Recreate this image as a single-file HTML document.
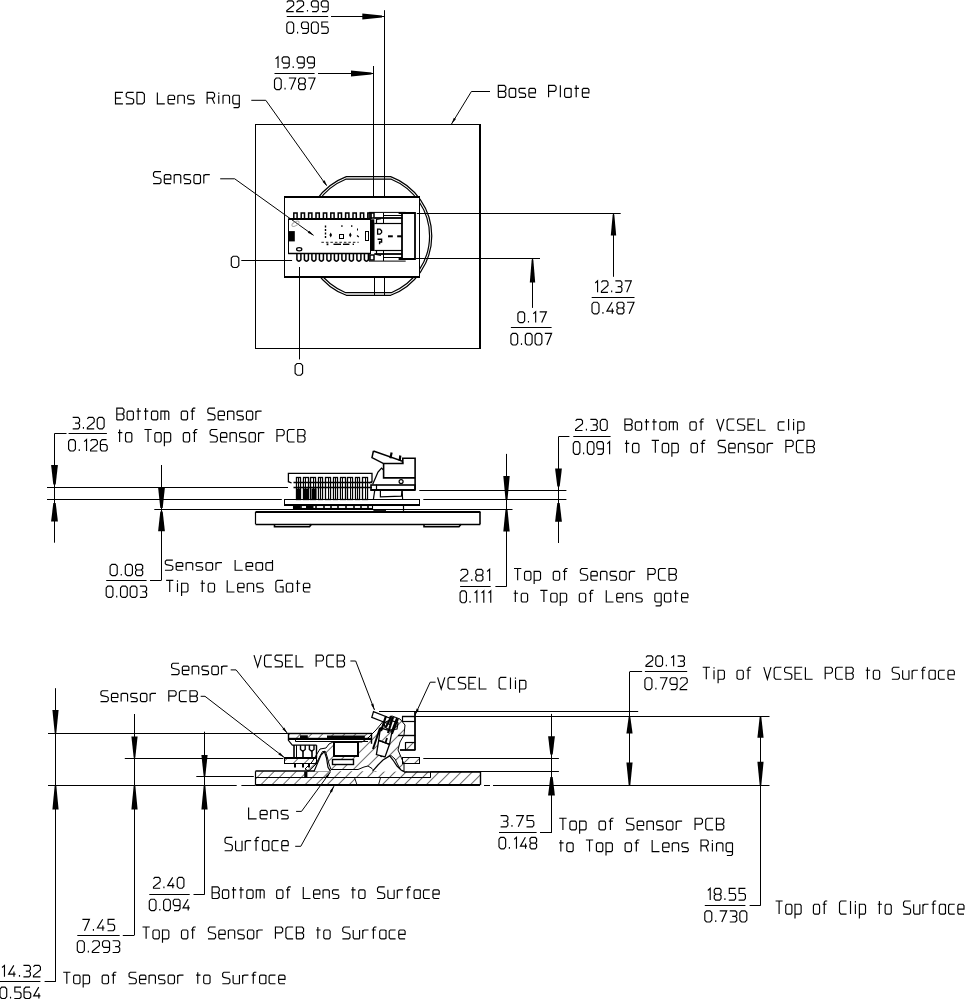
<!DOCTYPE html>
<html><head><meta charset="utf-8"><style>
html,body{margin:0;padding:0;background:#fff;width:965px;height:999px;overflow:hidden}
svg{display:block}
text{font-family:"Liberation Sans",sans-serif;fill:#000}
</style></head><body>
<svg width="965" height="999" viewBox="0 0 965 999" stroke="#000" fill="none" stroke-linecap="butt">
<defs><pattern id="hatch" patternUnits="userSpaceOnUse" width="7.8" height="20" patternTransform="translate(282,785) rotate(45)"><line x1="0" y1="-5" x2="0" y2="25" stroke="#000" stroke-width="1.15"/></pattern></defs>
<rect x="255.5" y="124.5" width="224.00" height="224.00" fill="none" stroke-width="1.0"/>
<line x1="480.0" y1="124.0" x2="480.0" y2="349.0" stroke-width="2.0"/>
<path d="M346.34,176.6 L390.66,176.6 A63.4,63.4 0 0 1 390.66,295.3 L346.34,295.3 A63.4,63.4 0 0 1 346.34,176.6 Z" fill="none" stroke-width="1.2"/>
<path d="M345.71,179.2 L391.29,179.2 A61.2,61.2 0 0 1 391.29,292.7 L345.71,292.7 A61.2,61.2 0 0 1 345.71,179.2 Z" fill="none" stroke-width="1.2"/>
<rect x="284.4" y="196.5" width="135.00" height="80.50" fill="#fff" stroke-width="0"/>
<rect x="284.5" y="196.5" width="135.00" height="81.00" fill="none" stroke-width="1.0"/>
<line x1="284.4" y1="197.0" x2="419.4" y2="197.0" stroke-width="2.0"/>
<line x1="284.4" y1="277.0" x2="419.4" y2="277.0" stroke-width="2.0"/>
<line x1="286.8" y1="16.5" x2="328.2" y2="16.5" stroke-width="1.0"/>
<line x1="331" y1="16.5" x2="384.4" y2="16.5" stroke-width="1.0"/>
<polygon points="362.30,13.50 362.30,19.50 382.00,17.50 382.00,15.50" fill="#000" stroke="none"/>
<line x1="384.5" y1="10.2" x2="384.5" y2="196" stroke-width="1.0"/>
<line x1="384.5" y1="277" x2="384.5" y2="295.3" stroke-width="1.0"/>
<line x1="274.5" y1="73.5" x2="314.6" y2="73.5" stroke-width="1.0"/>
<line x1="318" y1="73.5" x2="373.5" y2="73.5" stroke-width="1.0"/>
<polygon points="351.00,70.50 351.00,76.50 371.50,74.50 371.50,72.50" fill="#000" stroke="none"/>
<line x1="373.5" y1="66" x2="373.5" y2="196" stroke-width="1.0"/>
<line x1="374.5" y1="277" x2="374.5" y2="295.3" stroke-width="1.0"/>
<polyline points="251.3,100.3 265.8,100.3 326.5,185.5" fill="none" stroke-width="1.0"/>
<polygon points="327.30,186.30 324.54,180.29 322.50,181.74" fill="#000" stroke="none"/>
<polyline points="220.2,178.8 234.7,178.8 313.5,235.3" fill="none" stroke-width="1.0"/>
<polygon points="313.80,235.50 309.25,230.70 307.79,232.73" fill="#000" stroke="none"/>
<polyline points="490,91.5 471.4,91.5 451.5,124" fill="none" stroke-width="1.0"/>
<polygon points="451.50,124.00 455.96,119.11 453.83,117.80" fill="#000" stroke="none"/>
<line x1="241.3" y1="260.5" x2="292.1" y2="260.5" stroke-width="1.0"/>
<line x1="299.5" y1="267" x2="299.5" y2="359.4" stroke-width="1.0"/>
<line x1="416.8" y1="213.5" x2="620.7" y2="213.5" stroke-width="1.0"/>
<line x1="416.0" y1="258.5" x2="540.0" y2="258.5" stroke-width="1.0"/>
<line x1="613.5" y1="213.3" x2="613.5" y2="276.8" stroke-width="1.0"/>
<polygon points="610.80,235.60 616.20,235.60 614.30,214.50 612.70,214.50" fill="#000" stroke="none"/>
<line x1="591.7" y1="297.5" x2="634.5" y2="297.5" stroke-width="1.0"/>
<line x1="532.5" y1="258.2" x2="532.5" y2="307.9" stroke-width="1.0"/>
<polygon points="529.80,282.40 535.20,282.40 533.30,259.50 531.70,259.50" fill="#000" stroke="none"/>
<line x1="510.9" y1="327.5" x2="551.6" y2="327.5" stroke-width="1.0"/>
<rect x="288.5" y="219.5" width="82.00" height="34.00" fill="none" stroke-width="1.0"/>
<line x1="288.3" y1="219.0" x2="370.8" y2="219.0" stroke-width="2.0"/>
<line x1="288.3" y1="253.5" x2="370.8" y2="253.5" stroke-width="1.4"/>
<polyline points="293.8,219 293.8,212.9 297.1,212.9 297.1,219" fill="none" stroke-width="1.5"/>
<polyline points="301.2,219 301.2,212.9 304.5,212.9 304.5,219" fill="none" stroke-width="1.5"/>
<polyline points="308.6,219 308.6,212.9 311.90000000000003,212.9 311.90000000000003,219" fill="none" stroke-width="1.5"/>
<polyline points="316.0,219 316.0,212.9 319.3,212.9 319.3,219" fill="none" stroke-width="1.5"/>
<polyline points="323.40000000000003,219 323.40000000000003,212.9 326.70000000000005,212.9 326.70000000000005,219" fill="none" stroke-width="1.5"/>
<polyline points="330.8,219 330.8,212.9 334.1,212.9 334.1,219" fill="none" stroke-width="1.5"/>
<polyline points="338.20000000000005,219 338.20000000000005,212.9 341.50000000000006,212.9 341.50000000000006,219" fill="none" stroke-width="1.5"/>
<polyline points="345.6,219 345.6,212.9 348.90000000000003,212.9 348.90000000000003,219" fill="none" stroke-width="1.5"/>
<polyline points="353.0,219 353.0,212.9 356.3,212.9 356.3,219" fill="none" stroke-width="1.5"/>
<polyline points="360.40000000000003,219 360.40000000000003,212.9 363.70000000000005,212.9 363.70000000000005,219" fill="none" stroke-width="1.5"/>
<polyline points="367.8,219 367.8,212.9 371.1,212.9 371.1,219" fill="none" stroke-width="1.5"/>
<path d="M296.9,253.5 L296.9,259.8 Q298.9,262.6 300.9,259.8 L300.9,253.5" fill="none" stroke-width="1.5"/>
<path d="M304.4,253.5 L304.4,259.8 Q306.4,262.6 308.4,259.8 L308.4,253.5" fill="none" stroke-width="1.5"/>
<path d="M311.9,253.5 L311.9,259.8 Q313.9,262.6 315.9,259.8 L315.9,253.5" fill="none" stroke-width="1.5"/>
<path d="M319.4,253.5 L319.4,259.8 Q321.4,262.6 323.4,259.8 L323.4,253.5" fill="none" stroke-width="1.5"/>
<path d="M326.9,253.5 L326.9,259.8 Q328.9,262.6 330.9,259.8 L330.9,253.5" fill="none" stroke-width="1.5"/>
<path d="M334.4,253.5 L334.4,259.8 Q336.4,262.6 338.4,259.8 L338.4,253.5" fill="none" stroke-width="1.5"/>
<path d="M341.9,253.5 L341.9,259.8 Q343.9,262.6 345.9,259.8 L345.9,253.5" fill="none" stroke-width="1.5"/>
<path d="M349.4,253.5 L349.4,259.8 Q351.4,262.6 353.4,259.8 L353.4,253.5" fill="none" stroke-width="1.5"/>
<path d="M356.9,253.5 L356.9,259.8 Q358.9,262.6 360.9,259.8 L360.9,253.5" fill="none" stroke-width="1.5"/>
<path d="M364.4,253.5 L364.4,259.8 Q366.4,262.6 368.4,259.8 L368.4,253.5" fill="none" stroke-width="1.5"/>
<rect x="370.8" y="222.7" width="3.50" height="28.00" fill="#000" stroke-width="0"/>
<rect x="288.7" y="231.1" width="6.10" height="10.30" fill="#000" stroke-width="0"/>
<ellipse cx="299.2" cy="249.2" rx="2.6" ry="1.6" stroke-width="1.3"/>
<line x1="325.5" y1="225.5" x2="325.5" y2="227.5" stroke-width="1.4"/>
<line x1="325.5" y1="229.0" x2="325.5" y2="231.0" stroke-width="1.4"/>
<line x1="325.5" y1="232.5" x2="325.5" y2="234.5" stroke-width="1.4"/>
<line x1="325.5" y1="236.0" x2="325.5" y2="238.0" stroke-width="1.4"/>
<polygon points="330.7,232.6 332.0,235.0 330.7,237.4 329.4,235.0" fill="#000" stroke="none"/>
<polygon points="350.3,232.6 351.6,235.0 350.3,237.4 349.0,235.0" fill="#000" stroke="none"/>
<rect x="339.5" y="234.5" width="4.00" height="4.00" fill="none" stroke-width="1.0"/>
<rect x="341.2" y="225.3" width="1.40" height="1.50" fill="#000" stroke-width="0"/>
<rect x="351.0" y="225.3" width="1.40" height="1.50" fill="#000" stroke-width="0"/>
<line x1="357.5" y1="228.5" x2="357.5" y2="230.5" stroke-width="1.0"/>
<line x1="357.0" y1="235.5" x2="358.8" y2="237.0" stroke-width="1.2"/>
<line x1="321.4" y1="242.3" x2="358.7" y2="242.3" stroke-width="0.9" stroke-dasharray="2.5 2"/>
<rect x="326.6" y="243.4" width="1.80" height="1.80" fill="#000" stroke-width="0"/>
<rect x="333.5" y="243.6" width="7.50" height="1.40" fill="#000" stroke-width="0"/>
<rect x="343.0" y="243.6" width="6.40" height="1.40" fill="#000" stroke-width="0"/>
<rect x="352.6" y="243.6" width="1.40" height="1.40" fill="#000" stroke-width="0"/>
<rect x="365.5" y="231.5" width="3.00" height="9.00" fill="none" stroke-width="1.0"/>
<ellipse cx="295.5" cy="223.8" rx="4" ry="1.8" transform="rotate(-30 295.5 223.8)" stroke="#aaa" stroke-width="1"/>
<rect x="370.3" y="219.3" width="4.00" height="31.70" fill="#000" stroke-width="0"/>
<rect x="402.0" y="213.0" width="13.00" height="46.00" fill="none" stroke-width="1.8"/>
<line x1="398.6" y1="213.0" x2="415.4" y2="213.0" stroke-width="2.0"/>
<line x1="398.6" y1="259.0" x2="415.4" y2="259.0" stroke-width="2.0"/>
<polyline points="369,219.3 369,212.4 405.7,212.4" fill="none" stroke-width="1.0"/>
<polyline points="369,253.3 369,261.1 405.7,261.1" fill="none" stroke-width="1.0"/>
<rect x="370.0" y="213.0" width="4.00" height="5.00" fill="none" stroke-width="1.5"/>
<rect x="370.0" y="255.0" width="4.00" height="5.00" fill="none" stroke-width="1.5"/>
<line x1="384" y1="215.5" x2="402.3" y2="215.5" stroke-width="1.0"/>
<line x1="374.3" y1="218.0" x2="402.3" y2="218.0" stroke-width="1.8"/>
<line x1="374.3" y1="223.5" x2="402.3" y2="223.5" stroke-width="1.2"/>
<line x1="374.3" y1="250.5" x2="402.3" y2="250.5" stroke-width="1.2"/>
<line x1="374.3" y1="254.0" x2="402.3" y2="254.0" stroke-width="1.8"/>
<line x1="384" y1="257.5" x2="402.3" y2="257.5" stroke-width="1.0"/>
<polyline points="376.5,223.3 376.5,219.5 381,218.6" fill="none" stroke-width="1.2"/>
<polyline points="376.5,250.7 376.5,254.5 381,255.5" fill="none" stroke-width="1.2"/>
<line x1="383.5" y1="213" x2="383.5" y2="223.3" stroke-width="1.0"/>
<line x1="383.5" y1="250.7" x2="383.5" y2="261" stroke-width="1.0"/>
<path d="M377.6,229.2 L380,229.2 L381.6,230.8 L381.6,232.6 L380,234.2 L377.6,234.2 Z" fill="none" stroke-width="1.3"/>
<path d="M377.6,239.2 L381.6,239.2 L381.6,242 L379.6,242 L379.6,244.2" fill="none" stroke-width="1.4"/>
<rect x="388.0" y="235.3" width="4.80" height="2.00" fill="#000" stroke-width="0"/>
<rect x="397.2" y="235.3" width="4.80" height="2.00" fill="#000" stroke-width="0"/>
<line x1="47" y1="487.5" x2="288" y2="487.5" stroke-width="1.0"/>
<line x1="47" y1="499.5" x2="281.8" y2="499.5" stroke-width="1.0"/>
<line x1="154.3" y1="509.5" x2="512.5" y2="509.5" stroke-width="1.0"/>
<line x1="419.3" y1="490.5" x2="566.4" y2="490.5" stroke-width="1.0"/>
<line x1="423.3" y1="499.5" x2="566.4" y2="499.5" stroke-width="1.0"/>
<line x1="54.5" y1="433.4" x2="54.5" y2="542.7" stroke-width="1.0"/>
<polygon points="51.10,465.00 57.90,465.00 55.70,484.50 53.30,484.50" fill="#000" stroke="none"/>
<polygon points="51.10,521.40 57.90,521.40 55.70,503.00 53.30,503.00" fill="#000" stroke="none"/>
<line x1="54.6" y1="433.5" x2="66.5" y2="433.5" stroke-width="1.0"/>
<line x1="68.6" y1="433.5" x2="106.9" y2="433.5" stroke-width="1.0"/>
<line x1="161.5" y1="465.0" x2="161.5" y2="580.3" stroke-width="1.0"/>
<polygon points="158.10,487.60 164.90,487.60 162.70,508.00 160.30,508.00" fill="#000" stroke="none"/>
<polygon points="158.10,531.20 164.90,531.20 162.70,511.50 160.30,511.50" fill="#000" stroke="none"/>
<line x1="106.2" y1="580.5" x2="146.6" y2="580.5" stroke-width="1.0"/>
<line x1="150.0" y1="580.5" x2="161.4" y2="580.5" stroke-width="1.0"/>
<line x1="506.5" y1="453.9" x2="506.5" y2="586.4" stroke-width="1.0"/>
<polygon points="503.30,476.00 509.70,476.00 507.50,499.40 505.50,499.40" fill="#000" stroke="none"/>
<polygon points="503.30,531.60 509.70,531.60 507.50,509.50 505.50,509.50" fill="#000" stroke="none"/>
<line x1="460.1" y1="586.5" x2="490.7" y2="586.5" stroke-width="1.0"/>
<line x1="495.4" y1="586.5" x2="506.7" y2="586.5" stroke-width="1.0"/>
<line x1="558.5" y1="436.7" x2="558.5" y2="543.0" stroke-width="1.0"/>
<polygon points="555.10,468.40 561.90,468.40 559.70,486.60 557.30,486.60" fill="#000" stroke="none"/>
<polygon points="555.10,521.70 561.90,521.70 559.70,503.10 557.30,503.10" fill="#000" stroke="none"/>
<line x1="558.5" y1="436.5" x2="569.4" y2="436.5" stroke-width="1.0"/>
<line x1="573.3" y1="436.5" x2="610.6" y2="436.5" stroke-width="1.0"/>
<line x1="255.6" y1="512.0" x2="480.3" y2="512.0" stroke-width="2.0"/>
<line x1="255.6" y1="524.5" x2="480.3" y2="524.5" stroke-width="1.4"/>
<line x1="255.5" y1="511.8" x2="255.5" y2="524.3" stroke-width="1.2"/>
<line x1="480.0" y1="511.8" x2="480.0" y2="524.3" stroke-width="1.6"/>
<polyline points="274.5,524.3 274.5,526.8 309.5,526.8 311.4,524.3" fill="none" stroke-width="1.6"/>
<polyline points="424.0,524.3 424.0,526.8 459.0,526.8 461.0,524.3" fill="none" stroke-width="1.6"/>
<line x1="373.4" y1="511.0" x2="386" y2="511.0" stroke-width="1.8"/>
<rect x="284.5" y="499.5" width="135.00" height="6.00" fill="none" stroke-width="1.0"/>
<line x1="284.6" y1="505.0" x2="419.3" y2="505.0" stroke-width="1.8"/>
<rect x="293.5" y="505.5" width="79.00" height="3.00" fill="none" stroke-width="1.1"/>
<line x1="294.0" y1="505.1" x2="294.0" y2="508.9" stroke-width="1.6"/>
<line x1="301.0" y1="505.1" x2="301.0" y2="508.9" stroke-width="1.6"/>
<line x1="308.0" y1="505.1" x2="308.0" y2="508.9" stroke-width="1.6"/>
<line x1="316.0" y1="505.1" x2="316.0" y2="508.9" stroke-width="1.6"/>
<line x1="324.0" y1="505.1" x2="324.0" y2="508.9" stroke-width="1.6"/>
<line x1="331.0" y1="505.1" x2="331.0" y2="508.9" stroke-width="1.6"/>
<line x1="338.0" y1="505.1" x2="338.0" y2="508.9" stroke-width="1.6"/>
<line x1="346.0" y1="505.1" x2="346.0" y2="508.9" stroke-width="1.6"/>
<line x1="354.0" y1="505.1" x2="354.0" y2="508.9" stroke-width="1.6"/>
<line x1="361.0" y1="505.1" x2="361.0" y2="508.9" stroke-width="1.6"/>
<line x1="368.0" y1="505.1" x2="368.0" y2="508.9" stroke-width="1.6"/>
<rect x="294" y="505.5" width="6.50" height="3.00" fill="#000" stroke-width="0"/>
<rect x="306" y="505.5" width="7.50" height="3.00" fill="#000" stroke-width="0"/>
<polyline points="291.6,483 288.4,481.7 288.4,473.4 372.0,473.4 372.0,481.7 369,483" fill="none" stroke-width="1.3"/>
<line x1="293.5" y1="482.5" x2="372.0" y2="482.5" stroke-width="1.3"/>
<line x1="293.5" y1="487.5" x2="372.0" y2="487.5" stroke-width="1.3"/>
<rect x="296.5" y="488.5" width="4.00" height="10.50" fill="#000" stroke-width="0"/>
<rect x="304.0" y="488.5" width="4.50" height="10.50" fill="#000" stroke-width="0"/>
<rect x="311.5" y="488.5" width="5.00" height="10.50" fill="#000" stroke-width="0"/>
<rect x="296.5" y="477.5" width="4.00" height="22.00" fill="none" stroke-width="1.3"/>
<line x1="298.5" y1="477.5" x2="298.5" y2="499" stroke-width="1.0"/>
<rect x="303.5" y="477.5" width="5.00" height="22.00" fill="none" stroke-width="1.3"/>
<line x1="305.5" y1="477.5" x2="305.5" y2="499" stroke-width="1.0"/>
<rect x="310.5" y="477.5" width="5.00" height="22.00" fill="none" stroke-width="1.3"/>
<line x1="313.5" y1="477.5" x2="313.5" y2="499" stroke-width="1.0"/>
<rect x="318.5" y="477.5" width="4.00" height="22.00" fill="none" stroke-width="1.3"/>
<line x1="320.5" y1="477.5" x2="320.5" y2="499" stroke-width="1.0"/>
<rect x="325.5" y="477.5" width="5.00" height="22.00" fill="none" stroke-width="1.3"/>
<line x1="328.5" y1="477.5" x2="328.5" y2="499" stroke-width="1.0"/>
<rect x="333.5" y="477.5" width="4.00" height="22.00" fill="none" stroke-width="1.3"/>
<line x1="335.5" y1="477.5" x2="335.5" y2="499" stroke-width="1.0"/>
<rect x="340.5" y="477.5" width="5.00" height="22.00" fill="none" stroke-width="1.3"/>
<line x1="342.5" y1="477.5" x2="342.5" y2="499" stroke-width="1.0"/>
<rect x="347.5" y="477.5" width="5.00" height="22.00" fill="none" stroke-width="1.3"/>
<line x1="350.5" y1="477.5" x2="350.5" y2="499" stroke-width="1.0"/>
<rect x="355.5" y="477.5" width="4.00" height="22.00" fill="none" stroke-width="1.3"/>
<line x1="357.5" y1="477.5" x2="357.5" y2="499" stroke-width="1.0"/>
<rect x="362.5" y="477.5" width="5.00" height="22.00" fill="none" stroke-width="1.3"/>
<line x1="365.5" y1="477.5" x2="365.5" y2="499" stroke-width="1.0"/>
<polyline points="373.4,451.0 402.1,461.1 402.8,463.6 383.6,463.6 372.0,457.6 373.4,451.0" fill="none" stroke-width="1.5"/>
<line x1="391.6" y1="452.5" x2="390.4" y2="458.2" stroke-width="2.2"/>
<line x1="400.3" y1="455.5" x2="399.6" y2="461" stroke-width="2.2"/>
<polyline points="402.8,463.6 402.8,458.3 415.1,458.3 415.1,489.8" fill="none" stroke-width="1.6"/>
<polyline points="383.6,463.6 383.6,477.9 415.1,477.9" fill="none" stroke-width="1.6"/>
<rect x="371.0" y="485.0" width="44.00" height="5.00" fill="none" stroke-width="1.6"/>
<line x1="376.5" y1="484.6" x2="376.5" y2="489.8" stroke-width="1.2"/>
<line x1="370.6" y1="490.0" x2="415.1" y2="490.0" stroke-width="2.0"/>
<circle cx="401.1" cy="481.6" r="2.0" stroke-width="1.2"/>
<polyline points="372.7,484.2 378,472 381.5,468.1 383.6,470" fill="none" stroke-width="1.3"/>
<line x1="374.8" y1="489.8" x2="373.4" y2="499.3" stroke-width="1.2"/>
<polyline points="380.4,489.8 380.4,496.9 401.4,496.1 402.1,489.8" fill="none" stroke-width="1.2"/>
<line x1="402.1" y1="489.8" x2="402.6" y2="499.3" stroke-width="1.2"/>
<line x1="403.5" y1="505.1" x2="403.5" y2="510.9" stroke-width="1.2"/>
<line x1="48" y1="733.5" x2="288" y2="733.5" stroke-width="1.0"/>
<line x1="124.8" y1="758.5" x2="283.3" y2="758.5" stroke-width="1.0"/>
<line x1="196.3" y1="776.5" x2="253.8" y2="776.5" stroke-width="1.0"/>
<line x1="48" y1="785.5" x2="236.7" y2="785.5" stroke-width="1.0"/>
<line x1="241.4" y1="785.5" x2="255.5" y2="785.5" stroke-width="1.0"/>
<line x1="379" y1="711.5" x2="638.2" y2="711.5" stroke-width="1.0"/>
<line x1="415.5" y1="716.5" x2="769.5" y2="716.5" stroke-width="1.0"/>
<line x1="423.3" y1="758.5" x2="558.9" y2="758.5" stroke-width="1.0"/>
<line x1="431" y1="771.5" x2="558.9" y2="771.5" stroke-width="1.0"/>
<line x1="484" y1="785.5" x2="490" y2="785.5" stroke-width="1.0"/>
<line x1="493" y1="785.5" x2="769.5" y2="785.5" stroke-width="1.0"/>
<line x1="55.5" y1="688.2" x2="55.5" y2="981.9" stroke-width="1.0"/>
<polygon points="52.40,710.00 58.60,710.00 56.30,733.00 54.70,733.00" fill="#000" stroke="none"/>
<polygon points="52.40,809.40 58.60,809.40 56.30,785.50 54.70,785.50" fill="#000" stroke="none"/>
<line x1="0" y1="981.5" x2="40.4" y2="981.5" stroke-width="1.0"/>
<line x1="44.6" y1="981.5" x2="55.5" y2="981.5" stroke-width="1.0"/>
<line x1="134.5" y1="714.0" x2="134.5" y2="935.3" stroke-width="1.0"/>
<polygon points="131.40,736.40 137.60,736.40 135.30,757.80 133.70,757.80" fill="#000" stroke="none"/>
<polygon points="131.40,809.40 137.60,809.40 135.30,785.50 133.70,785.50" fill="#000" stroke="none"/>
<line x1="77.3" y1="935.5" x2="119.7" y2="935.5" stroke-width="1.0"/>
<line x1="122.8" y1="935.5" x2="134.2" y2="935.5" stroke-width="1.0"/>
<line x1="204.5" y1="731.7" x2="204.5" y2="894.4" stroke-width="1.0"/>
<polygon points="201.40,755.00 207.60,755.00 205.30,776.50 203.70,776.50" fill="#000" stroke="none"/>
<polygon points="201.40,809.40 207.60,809.40 205.30,785.50 203.70,785.50" fill="#000" stroke="none"/>
<line x1="149.3" y1="894.5" x2="189.7" y2="894.5" stroke-width="1.0"/>
<line x1="193.5" y1="894.5" x2="204.7" y2="894.5" stroke-width="1.0"/>
<line x1="551.5" y1="713.9" x2="551.5" y2="832.7" stroke-width="1.0"/>
<polygon points="548.10,736.20 554.90,736.20 552.70,754.60 550.30,754.60" fill="#000" stroke="none"/>
<polygon points="548.10,795.40 554.90,795.40 552.70,777.00 550.30,777.00" fill="#000" stroke="none"/>
<line x1="499.0" y1="832.5" x2="536.6" y2="832.5" stroke-width="1.0"/>
<line x1="540.0" y1="832.5" x2="551.9" y2="832.5" stroke-width="1.0"/>
<line x1="629.5" y1="671.8" x2="629.5" y2="785.6" stroke-width="1.0"/>
<polygon points="626.40,733.40 632.60,733.40 630.30,716.80 628.70,716.80" fill="#000" stroke="none"/>
<polygon points="626.40,762.40 632.60,762.40 630.30,785.30 628.70,785.30" fill="#000" stroke="none"/>
<line x1="629.7" y1="671.5" x2="642.1" y2="671.5" stroke-width="1.0"/>
<line x1="644.9" y1="671.5" x2="687.2" y2="671.5" stroke-width="1.0"/>
<line x1="760.5" y1="716.5" x2="760.5" y2="905.2" stroke-width="1.0"/>
<polygon points="757.40,737.80 763.60,737.80 761.30,716.80 759.70,716.80" fill="#000" stroke="none"/>
<polygon points="757.40,761.70 763.60,761.70 761.30,785.30 759.70,785.30" fill="#000" stroke="none"/>
<line x1="704.8" y1="905.5" x2="745.4" y2="905.5" stroke-width="1.0"/>
<line x1="749.6" y1="905.5" x2="760.8" y2="905.5" stroke-width="1.0"/>
<polyline points="230.7,669.9 236.1,669.9 287.4,733.3" fill="none" stroke-width="1.0"/>
<polygon points="287.40,733.30 284.28,727.46 282.34,729.03" fill="#000" stroke="none"/>
<polyline points="200.7,696.3 205,696.3 284.3,757.5" fill="none" stroke-width="1.0"/>
<polygon points="284.30,757.50 279.92,752.54 278.39,754.52" fill="#000" stroke="none"/>
<polyline points="350.4,661.0 355.7,661.0 374.5,710" fill="none" stroke-width="1.0"/>
<polygon points="374.50,710.00 373.34,703.48 371.00,704.38" fill="#000" stroke="none"/>
<polyline points="435.6,682.2 430.2,682.2 415,715" fill="none" stroke-width="1.0"/>
<polygon points="415.00,715.00 418.87,709.63 416.60,708.58" fill="#000" stroke="none"/>
<polyline points="296.1,811.4 301.5,811.4 330.3,772.1" fill="none" stroke-width="1.0"/>
<polygon points="330.30,772.10 325.45,776.60 327.47,778.08" fill="#000" stroke="none"/>
<polyline points="295.2,846.3 300.8,846.3 334,786.1" fill="none" stroke-width="1.0"/>
<polygon points="334.00,786.10 329.77,791.19 331.96,792.40" fill="#000" stroke="none"/>
<rect x="255.5" y="771.2" width="224.60" height="13.70" fill="url(#hatch)" stroke-width="0"/>
<polygon points="354.5,777.4 380.6,777.4 378.5,784.9 357,784.9" fill="#fff" stroke-width="0"/>
<line x1="354.5" y1="777.4" x2="357" y2="784.9" stroke-width="0.9"/>
<line x1="380.6" y1="777.4" x2="378.5" y2="784.9" stroke-width="0.9"/>
<line x1="255.5" y1="771.0" x2="330" y2="771.0" stroke-width="1.6"/>
<line x1="404" y1="772.0" x2="480.1" y2="772.0" stroke-width="1.6"/>
<line x1="255.5" y1="777.5" x2="430.8" y2="777.5" stroke-width="1.0"/>
<line x1="430.5" y1="771.2" x2="430.5" y2="777.4" stroke-width="1.0"/>
<rect x="304.2" y="771.5" width="3.20" height="6.00" fill="#000" stroke-width="0"/>
<line x1="255.5" y1="785.0" x2="480.1" y2="785.0" stroke-width="1.8"/>
<line x1="255.5" y1="771.2" x2="255.5" y2="784.9" stroke-width="1.2"/>
<line x1="480.5" y1="771.2" x2="480.5" y2="784.9" stroke-width="1.4"/>
<polygon points="309,771.2 316,764 320,756 322.5,751.5 325.5,751.5 327.5,758 329,764 331,769.5 358,769.5 364,767 368,766 372,768.5 375.5,772 381,765 386,759 391,755.5 395,759 398,765 401,770.5 404,771.8 404,764 401,757 398,750 400,742 404,735 405,725 400,719 392,716 385,719 376,730 368,738 362,742 333,742 329,744 326,748 320,749 312,762 305,769" fill="url(#hatch)" stroke-width="1.0"/>
<polyline points="372.5,771.4 378,765 383,760 389.7,755.9 393,760 397,766 401,770 404,771.4" fill="#fff" stroke-width="1.2"/>
<polyline points="314,771.4 318,762 321,755 324.4,751.6 326.5,758 328,767.4 330.6,771.4" fill="#fff" stroke-width="1.2"/>
<rect x="334.0" y="742.0" width="24.00" height="14.00" fill="#fff" stroke-width="2.0"/>
<rect x="332.5" y="759.5" width="21.00" height="5.00" fill="#fff" stroke-width="1.4"/>
<rect x="284.5" y="757.5" width="32.00" height="6.00" fill="url(#hatch)" stroke-width="1.0"/>
<rect x="284.5" y="757.5" width="32.00" height="6.00" fill="none" stroke-width="1.0"/>
<line x1="284.7" y1="758.0" x2="316.5" y2="758.0" stroke-width="2.0"/>
<rect x="402.5" y="757.5" width="17.00" height="6.00" fill="url(#hatch)" stroke-width="1.0"/>
<rect x="402.5" y="757.5" width="17.00" height="6.00" fill="none" stroke-width="1.0"/>
<rect x="288.5" y="733.5" width="83.00" height="5.00" fill="url(#hatch)" stroke-width="1.0"/>
<rect x="288.5" y="733.5" width="83.00" height="5.00" fill="none" stroke-width="1.4"/>
<rect x="300.0" y="735.3" width="7.80" height="2.80" fill="#000" stroke-width="0"/>
<rect x="327.0" y="735.5" width="37.80" height="3.10" fill="#000" stroke-width="0"/>
<line x1="288.3" y1="739.0" x2="371.6" y2="739.0" stroke-width="2.0"/>
<line x1="295.4" y1="741.5" x2="368.0" y2="741.5" stroke-width="1.0"/>
<polyline points="288.4,738.9 288.4,740.4 292.3,745.1 316.5,745.1" fill="none" stroke-width="1.2"/>
<line x1="371.5" y1="738.9" x2="371.5" y2="743.8" stroke-width="1.4"/>
<line x1="295.5" y1="739" x2="295.5" y2="741.5" stroke-width="1.0"/>
<line x1="294.0" y1="745.1" x2="294.0" y2="757.8" stroke-width="1.6"/>
<line x1="296.5" y1="745.1" x2="296.5" y2="757.8" stroke-width="1.0"/>
<polyline points="300.5,745.1 300.5,749.5 302.85,751.3 305.2,749.5 305.2,745.1" fill="none" stroke-width="1.4"/>
<line x1="303.0" y1="751.3" x2="303.0" y2="757.8" stroke-width="1.6"/>
<polyline points="309.4,745.1 309.4,749.5 311.7,751.3 314.0,749.5 314.0,745.1" fill="none" stroke-width="1.4"/>
<line x1="312.0" y1="751.3" x2="312.0" y2="757.8" stroke-width="1.6"/>
<line x1="316.5" y1="745.1" x2="316.5" y2="757.8" stroke-width="1.4"/>
<line x1="295.0" y1="763.5" x2="295.0" y2="767.6" stroke-width="2.0"/>
<line x1="303.0" y1="763.5" x2="303.0" y2="767.6" stroke-width="2.0"/>
<line x1="309.0" y1="763.5" x2="309.0" y2="767.6" stroke-width="2.0"/>
<line x1="415.0" y1="711.3" x2="415.0" y2="750.3" stroke-width="1.8"/>
<line x1="402.0" y1="716.5" x2="415.3" y2="716.5" stroke-width="1.4"/>
<line x1="402.0" y1="721.5" x2="415.3" y2="721.5" stroke-width="1.2"/>
<line x1="402.5" y1="716.4" x2="402.5" y2="721.0" stroke-width="1.2"/>
<line x1="398.0" y1="735.5" x2="415.3" y2="735.5" stroke-width="1.4"/>
<line x1="405.7" y1="742.5" x2="415.3" y2="742.5" stroke-width="1.2"/>
<line x1="400.0" y1="750.0" x2="415.3" y2="750.0" stroke-width="1.8"/>
<line x1="405.5" y1="742.0" x2="405.5" y2="750.3" stroke-width="1.2"/>
<rect x="406" y="742.5" width="9.00" height="7.50" fill="url(#hatch)" stroke-width="0"/>
<polygon points="373.5,711.6 371.8,717.3 390,724.5 392,719" fill="#fff" stroke-width="1.3"/>
<polygon points="384,723 390,720 398,723 397,729 389,730 385,727" fill="url(#hatch)" stroke-width="1.2"/>
<line x1="386" y1="716" x2="381" y2="731" stroke-width="2.2"/>
<line x1="393" y1="717" x2="388" y2="733" stroke-width="2.2"/>
<line x1="398" y1="719" x2="392" y2="734" stroke-width="1.8"/>
<line x1="373" y1="749" x2="380" y2="728" stroke-width="2.0"/>
<line x1="387" y1="738" x2="381" y2="757" stroke-width="1.8"/>
<polygon points="378.7,740.3 389.5,744.3 385,756.9 376.4,754.6" fill="#fff" stroke-width="1.3"/>
<polygon points="380.4,727.8 392,731.5 389.5,744.3 378.7,740.3" fill="none" stroke-width="1.3"/>
<line x1="391.5" y1="716" x2="386" y2="727" stroke-width="2.0"/>
<line x1="397" y1="718" x2="392" y2="731" stroke-width="2.0"/>
<path d="M286.80,2.33 L288.17,0.90 L292.30,0.90 L293.67,2.33 L293.67,5.18 L286.80,10.53 L286.80,11.60 L293.67,11.60 M296.72,2.33 L298.09,0.90 L302.22,0.90 L303.59,2.33 L303.59,5.18 L296.72,10.53 L296.72,11.60 L303.59,11.60 M307.50,11.60 L307.50,9.99 M312.09,11.60 L316.56,11.60 L318.28,9.82 L318.28,2.33 L316.91,0.90 L312.78,0.90 L311.41,2.33 L311.41,5.54 L312.78,6.96 L318.28,6.96 M322.01,11.60 L326.48,11.60 L328.20,9.82 L328.20,2.33 L326.83,0.90 L322.70,0.90 L321.33,2.33 L321.33,5.54 L322.70,6.96 L328.20,6.96" stroke-width="1.15" stroke-linejoin="miter"/>
<path d="M288.52,33.40 L291.95,33.40 L293.67,31.50 L293.67,23.90 L291.95,22.00 L288.52,22.00 L286.80,23.90 L286.80,31.50 L288.52,33.40 M297.58,33.40 L297.58,31.69 M302.17,33.40 L306.64,33.40 L308.36,31.50 L308.36,23.52 L306.98,22.00 L302.86,22.00 L301.49,23.52 L301.49,26.94 L302.86,28.46 L308.36,28.46 M313.13,33.40 L316.56,33.40 L318.28,31.50 L318.28,23.90 L316.56,22.00 L313.13,22.00 L311.41,23.90 L311.41,31.50 L313.13,33.40 M328.20,22.00 L321.84,22.00 L321.84,26.94 L326.83,26.94 L328.20,28.46 L328.20,31.88 L326.83,33.40 L321.33,33.40" stroke-width="1.15" stroke-linejoin="miter"/>
<path d="M278.02,67.90 L278.02,56.80 L275.55,58.83 M282.89,67.90 L287.46,67.90 L289.22,66.05 L289.22,58.28 L287.82,56.80 L283.60,56.80 L282.19,58.28 L282.19,61.61 L283.60,63.09 L289.22,63.09 M293.22,67.90 L293.22,66.23 M297.92,67.90 L302.49,67.90 L304.25,66.05 L304.25,58.28 L302.84,56.80 L298.62,56.80 L297.22,58.28 L297.22,61.61 L298.62,63.09 L304.25,63.09 M308.07,67.90 L312.64,67.90 L314.40,66.05 L314.40,58.28 L312.99,56.80 L308.77,56.80 L307.37,58.28 L307.37,61.61 L308.77,63.09 L314.40,63.09" stroke-width="1.15" stroke-linejoin="miter"/>
<path d="M276.18,89.60 L279.54,89.60 L281.22,87.67 L281.22,79.93 L279.54,78.00 L276.18,78.00 L274.50,79.93 L274.50,87.67 L276.18,89.60 M285.05,89.60 L285.05,87.86 M288.87,78.00 L295.59,78.00 L290.88,89.60 M299.92,83.80 L298.57,82.25 L298.57,79.55 L299.92,78.00 L303.95,78.00 L305.30,79.55 L305.30,82.25 L303.95,83.80 L299.92,83.80 L298.57,85.35 L298.57,88.05 L299.92,89.60 L303.95,89.60 L305.30,88.05 L305.30,85.35 L303.95,83.80 M308.28,78.00 L315.00,78.00 L310.29,89.60" stroke-width="1.15" stroke-linejoin="miter"/>
<path d="M122.93,92.40 L115.50,92.40 L115.50,103.80 L122.93,103.80 M115.50,98.10 L121.07,98.10 M133.65,92.40 L127.52,92.40 L126.22,93.73 L126.22,96.58 L127.34,97.53 L132.54,98.67 L133.65,99.81 L133.65,102.47 L132.35,103.80 L125.85,103.80 M136.94,103.80 L136.94,92.40 L142.51,92.40 L144.37,94.30 L144.37,101.90 L142.51,103.80 L136.94,103.80 M157.35,92.40 L157.35,103.80 L164.78,103.80 M168.07,99.53 L174.57,99.53 L174.57,96.39 L173.46,95.25 L169.18,95.25 L168.07,96.39 L168.07,102.66 L169.18,103.80 L174.57,103.80 M177.86,103.80 L177.86,95.25 M177.86,96.39 L178.98,95.25 L183.25,95.25 L184.36,96.39 L184.36,103.80 M194.16,95.25 L188.59,95.25 L187.66,96.20 L187.66,98.58 L188.59,99.33 L193.23,100.09 L194.16,101.05 L194.16,102.85 L193.23,103.80 L187.66,103.80 M207.13,103.80 L207.13,92.40 L213.08,92.40 L214.56,93.92 L214.56,96.58 L213.08,98.10 L207.13,98.10 M211.96,98.10 L214.56,103.80 M218.78,103.80 L218.78,95.25 M218.78,93.73 L218.78,92.40 M223.01,103.80 L223.01,95.25 M223.01,96.39 L224.12,95.25 L228.39,95.25 L229.51,96.39 L229.51,103.80 M239.30,95.25 L233.92,95.25 L232.80,96.39 L232.80,102.66 L233.92,103.80 L239.30,103.80 M239.30,95.25 L239.30,106.46 L238.19,107.60 L233.54,107.60" stroke-width="1.15" stroke-linejoin="miter"/>
<path d="M160.99,171.60 L154.81,171.60 L153.50,173.00 L153.50,176.00 L154.62,177.00 L159.87,178.20 L160.99,179.40 L160.99,182.20 L159.68,183.60 L153.13,183.60 M164.31,179.10 L170.86,179.10 L170.86,175.80 L169.74,174.60 L165.43,174.60 L164.31,175.80 L164.31,182.40 L165.43,183.60 L170.86,183.60 M174.19,183.60 L174.19,174.60 M174.19,175.80 L175.31,174.60 L179.61,174.60 L180.74,175.80 L180.74,183.60 M190.61,174.60 L185.00,174.60 L184.06,175.60 L184.06,178.10 L185.00,178.90 L189.68,179.70 L190.61,180.70 L190.61,182.60 L189.68,183.60 L184.06,183.60 M195.06,183.60 L199.36,183.60 L200.49,182.40 L200.49,175.80 L199.36,174.60 L195.06,174.60 L193.93,175.80 L193.93,182.40 L195.06,183.60 M203.81,183.60 L203.81,174.60 M203.81,176.20 L205.31,174.60 L209.80,174.60" stroke-width="1.15" stroke-linejoin="miter"/>
<path d="M498.30,97.30 L498.30,85.30 L504.30,85.30 L505.80,86.90 L505.80,89.70 L504.30,91.30 L498.30,91.30 M504.30,91.30 L505.80,92.90 L505.80,95.70 L504.30,97.30 L498.30,97.30 M510.25,97.30 L514.57,97.30 L515.69,96.10 L515.69,89.50 L514.57,88.30 L510.25,88.30 L509.13,89.50 L509.13,96.10 L510.25,97.30 M515.69,88.30 L515.69,97.30 M525.58,88.30 L519.96,88.30 L519.02,89.30 L519.02,91.80 L519.96,92.60 L524.65,93.40 L525.58,94.40 L525.58,96.30 L524.65,97.30 L519.02,97.30 M528.91,92.80 L535.48,92.80 L535.48,89.50 L534.35,88.30 L530.04,88.30 L528.91,89.50 L528.91,96.10 L530.04,97.30 L535.48,97.30 M548.58,97.30 L548.58,85.30 L554.59,85.30 L556.09,86.90 L556.09,89.70 L554.59,91.30 L548.58,91.30 M560.35,97.30 L560.35,85.30 M565.74,97.30 L570.05,97.30 L571.18,96.10 L571.18,89.50 L570.05,88.30 L565.74,88.30 L564.62,89.50 L564.62,96.10 L565.74,97.30 M571.18,88.30 L571.18,97.30 M576.20,85.30 L576.20,97.30 M574.51,88.30 L579.01,88.30 M582.34,92.80 L588.90,92.80 L588.90,89.50 L587.77,88.30 L583.46,88.30 L582.34,89.50 L582.34,96.10 L583.46,97.30 L588.90,97.30" stroke-width="1.15" stroke-linejoin="miter"/>
<path d="M233.18,267.50 L236.93,267.50 L238.80,265.62 L238.80,258.08 L236.93,256.20 L233.18,256.20 L231.30,258.08 L231.30,265.62 L233.18,267.50" stroke-width="1.15" stroke-linejoin="miter"/>
<path d="M296.98,375.20 L300.73,375.20 L302.60,373.25 L302.60,365.45 L300.73,363.50 L296.98,363.50 L295.10,365.45 L295.10,373.25 L296.98,375.20" stroke-width="1.15" stroke-linejoin="miter"/>
<path d="M597.56,292.30 L597.56,280.90 L595.28,282.99 M601.43,282.42 L602.73,280.90 L606.65,280.90 L607.95,282.42 L607.95,285.46 L601.43,291.16 L601.43,292.30 L607.95,292.30 M611.66,292.30 L611.66,290.59 M615.37,280.90 L620.58,280.90 L621.89,282.42 L621.89,285.08 L620.58,286.60 L617.65,286.60 M620.58,286.60 L621.89,288.12 L621.89,290.78 L620.58,292.30 L615.37,292.30 M624.78,280.90 L631.30,280.90 L626.74,292.30" stroke-width="1.15" stroke-linejoin="miter"/>
<path d="M593.74,313.80 L597.23,313.80 L598.97,311.87 L598.97,304.13 L597.23,302.20 L593.74,302.20 L592.00,304.13 L592.00,311.87 L593.74,313.80 M602.94,313.80 L602.94,312.06 M612.13,302.20 L606.90,311.09 L613.87,311.09 M612.30,308.39 L612.30,313.80 M618.36,308.00 L616.96,306.45 L616.96,303.75 L618.36,302.20 L622.54,302.20 L623.94,303.75 L623.94,306.45 L622.54,308.00 L618.36,308.00 L616.96,309.55 L616.96,312.25 L618.36,313.80 L622.54,313.80 L623.94,312.25 L623.94,309.55 L622.54,308.00 M627.03,302.20 L634.00,302.20 L629.12,313.80" stroke-width="1.15" stroke-linejoin="miter"/>
<path d="M519.58,322.60 L522.95,322.60 L524.64,320.80 L524.64,313.60 L522.95,311.80 L519.58,311.80 L517.90,313.60 L517.90,320.80 L519.58,322.60 M528.47,322.60 L528.47,320.98 M535.66,322.60 L535.66,311.80 L533.31,313.78 M539.66,311.80 L546.40,311.80 L541.68,322.60" stroke-width="1.15" stroke-linejoin="miter"/>
<path d="M512.59,345.00 L515.97,345.00 L517.66,343.05 L517.66,335.25 L515.97,333.30 L512.59,333.30 L510.90,335.25 L510.90,343.05 L512.59,345.00 M521.50,345.00 L521.50,343.25 M527.03,345.00 L530.41,345.00 L532.09,343.05 L532.09,335.25 L530.41,333.30 L527.03,333.30 L525.34,335.25 L525.34,343.05 L527.03,345.00 M536.78,345.00 L540.16,345.00 L541.85,343.05 L541.85,335.25 L540.16,333.30 L536.78,333.30 L535.09,335.25 L535.09,343.05 L536.78,345.00 M544.84,333.30 L551.60,333.30 L546.87,345.00" stroke-width="1.15" stroke-linejoin="miter"/>
<path d="M72.70,417.40 L78.18,417.40 L79.55,418.92 L79.55,421.58 L78.18,423.10 L75.10,423.10 M78.18,423.10 L79.55,424.62 L79.55,427.28 L78.18,428.80 L72.70,428.80 M83.45,428.80 L83.45,427.09 M87.35,418.92 L88.72,417.40 L92.83,417.40 L94.20,418.92 L94.20,421.96 L87.35,427.66 L87.35,428.80 L94.20,428.80 M98.96,428.80 L102.39,428.80 L104.10,426.90 L104.10,419.30 L102.39,417.40 L98.96,417.40 L97.25,419.30 L97.25,426.90 L98.96,428.80" stroke-width="1.15" stroke-linejoin="miter"/>
<path d="M70.30,451.00 L73.70,451.00 L75.40,449.10 L75.40,441.50 L73.70,439.60 L70.30,439.60 L68.60,441.50 L68.60,449.10 L70.30,451.00 M79.27,451.00 L79.27,449.29 M86.54,451.00 L86.54,439.60 L84.16,441.69 M90.58,441.12 L91.94,439.60 L96.02,439.60 L97.38,441.12 L97.38,444.16 L90.58,449.86 L90.58,451.00 L97.38,451.00 M106.52,439.60 L102.10,439.60 L100.40,441.50 L100.40,449.48 L101.76,451.00 L105.84,451.00 L107.20,449.48 L107.20,446.06 L105.84,444.54 L100.40,444.54" stroke-width="1.15" stroke-linejoin="miter"/>
<path d="M116.80,419.90 L116.80,408.10 L122.52,408.10 L123.95,409.67 L123.95,412.43 L122.52,414.00 L116.80,414.00 M122.52,414.00 L123.95,415.57 L123.95,418.33 L122.52,419.90 L116.80,419.90 M128.20,419.90 L132.31,419.90 L133.38,418.72 L133.38,412.23 L132.31,411.05 L128.20,411.05 L127.12,412.23 L127.12,418.72 L128.20,419.90 M138.16,408.10 L138.16,419.90 M136.55,411.05 L140.84,411.05 M145.62,408.10 L145.62,419.90 M144.01,411.05 L148.31,411.05 M152.55,419.90 L156.66,419.90 L157.73,418.72 L157.73,412.23 L156.66,411.05 L152.55,411.05 L151.48,412.23 L151.48,418.72 L152.55,419.90 M160.91,419.90 L160.91,411.05 L167.70,411.05 L168.77,412.23 L168.77,419.90 M164.84,411.05 L164.84,419.90 M182.34,419.90 L186.45,419.90 L187.52,418.72 L187.52,412.23 L186.45,411.05 L182.34,411.05 L181.27,412.23 L181.27,418.72 L182.34,419.90 M192.31,419.90 L192.31,409.28 L193.38,408.10 L195.34,408.10 M190.70,411.05 L194.63,411.05 M214.99,408.10 L209.09,408.10 L207.84,409.48 L207.84,412.43 L208.91,413.41 L213.92,414.59 L214.99,415.77 L214.99,418.52 L213.74,419.90 L207.48,419.90 M218.16,415.48 L224.42,415.48 L224.42,412.23 L223.35,411.05 L219.24,411.05 L218.16,412.23 L218.16,418.72 L219.24,419.90 L224.42,419.90 M227.59,419.90 L227.59,411.05 M227.59,412.23 L228.66,411.05 L232.78,411.05 L233.85,412.23 L233.85,419.90 M243.28,411.05 L237.91,411.05 L237.02,412.03 L237.02,414.49 L237.91,415.28 L242.38,416.06 L243.28,417.05 L243.28,418.92 L242.38,419.90 L237.02,419.90 M247.52,419.90 L251.63,419.90 L252.71,418.72 L252.71,412.23 L251.63,411.05 L247.52,411.05 L246.45,412.23 L246.45,418.72 L247.52,419.90 M255.88,419.90 L255.88,411.05 M255.88,412.62 L257.31,411.05 L261.60,411.05" stroke-width="1.15" stroke-linejoin="miter"/>
<path d="M119.62,429.50 L119.62,442.00 M118.00,432.62 L122.33,432.62 M126.61,442.00 L130.76,442.00 L131.84,440.75 L131.84,433.88 L130.76,432.62 L126.61,432.62 L125.53,433.88 L125.53,440.75 L126.61,442.00 M144.45,429.50 L151.66,429.50 M148.06,429.50 L148.06,442.00 M155.95,442.00 L160.10,442.00 L161.18,440.75 L161.18,433.88 L160.10,432.62 L155.95,432.62 L154.86,433.88 L154.86,440.75 L155.95,442.00 M164.38,446.17 L164.38,432.62 L169.61,432.62 L170.69,433.88 L170.69,440.75 L169.61,442.00 L164.38,442.00 M184.38,442.00 L188.53,442.00 L189.61,440.75 L189.61,433.88 L188.53,432.62 L184.38,432.62 L183.30,433.88 L183.30,440.75 L184.38,442.00 M194.43,442.00 L194.43,430.75 L195.52,429.50 L197.50,429.50 M192.81,432.62 L196.78,432.62 M217.32,429.50 L211.37,429.50 L210.11,430.96 L210.11,434.08 L211.19,435.12 L216.24,436.38 L217.32,437.62 L217.32,440.54 L216.06,442.00 L209.75,442.00 M220.52,437.31 L226.84,437.31 L226.84,433.88 L225.75,432.62 L221.60,432.62 L220.52,433.88 L220.52,440.75 L221.60,442.00 L226.84,442.00 M230.04,442.00 L230.04,432.62 M230.04,433.88 L231.12,432.62 L235.27,432.62 L236.35,433.88 L236.35,442.00 M245.86,432.62 L240.45,432.62 L239.55,433.67 L239.55,436.27 L240.45,437.10 L244.96,437.94 L245.86,438.98 L245.86,440.96 L244.96,442.00 L239.55,442.00 M250.14,442.00 L254.29,442.00 L255.38,440.75 L255.38,433.88 L254.29,432.62 L250.14,432.62 L249.06,433.88 L249.06,440.75 L250.14,442.00 M258.58,442.00 L258.58,432.62 M258.58,434.29 L260.02,432.62 L264.35,432.62 M276.95,442.00 L276.95,429.50 L282.73,429.50 L284.17,431.17 L284.17,434.08 L282.73,435.75 L276.95,435.75 M294.58,429.50 L288.81,429.50 L287.37,431.17 L287.37,440.33 L288.81,442.00 L294.58,442.00 M297.79,442.00 L297.79,429.50 L303.56,429.50 L305.00,431.17 L305.00,434.08 L303.56,435.75 L297.79,435.75 M303.56,435.75 L305.00,437.42 L305.00,440.33 L303.56,442.00 L297.79,442.00" stroke-width="1.15" stroke-linejoin="miter"/>
<path d="M111.88,575.60 L115.44,575.60 L117.22,573.72 L117.22,566.18 L115.44,564.30 L111.88,564.30 L110.10,566.18 L110.10,573.72 L111.88,575.60 M121.26,575.60 L121.26,573.90 M127.09,575.60 L130.65,575.60 L132.43,573.72 L132.43,566.18 L130.65,564.30 L127.09,564.30 L125.31,566.18 L125.31,573.72 L127.09,575.60 M137.01,569.95 L135.58,568.44 L135.58,565.81 L137.01,564.30 L141.28,564.30 L142.70,565.81 L142.70,568.44 L141.28,569.95 L137.01,569.95 L135.58,571.46 L135.58,574.09 L137.01,575.60 L141.28,575.60 L142.70,574.09 L142.70,571.46 L141.28,569.95" stroke-width="1.15" stroke-linejoin="miter"/>
<path d="M107.88,597.40 L111.23,597.40 L112.91,595.52 L112.91,587.98 L111.23,586.10 L107.88,586.10 L106.20,587.98 L106.20,595.52 L107.88,597.40 M116.72,597.40 L116.72,595.70 M122.21,597.40 L125.56,597.40 L127.24,595.52 L127.24,587.98 L125.56,586.10 L122.21,586.10 L120.53,587.98 L120.53,595.52 L122.21,597.40 M131.89,597.40 L135.24,597.40 L136.92,595.52 L136.92,587.98 L135.24,586.10 L131.89,586.10 L130.21,587.98 L130.21,595.52 L131.89,597.40 M139.89,586.10 L145.26,586.10 L146.60,587.61 L146.60,590.24 L145.26,591.75 L142.24,591.75 M145.26,591.75 L146.60,593.26 L146.60,595.89 L145.26,597.40 L139.89,597.40" stroke-width="1.15" stroke-linejoin="miter"/>
<path d="M172.84,560.10 L166.62,560.10 L165.30,561.28 L165.30,563.80 L166.43,564.64 L171.71,565.66 L172.84,566.67 L172.84,569.02 L171.52,570.20 L164.92,570.20 M176.18,566.41 L182.78,566.41 L182.78,563.63 L181.65,562.62 L177.31,562.62 L176.18,563.63 L176.18,569.19 L177.31,570.20 L182.78,570.20 M186.12,570.20 L186.12,562.62 M186.12,563.63 L187.25,562.62 L191.59,562.62 L192.72,563.63 L192.72,570.20 M202.66,562.62 L197.00,562.62 L196.06,563.47 L196.06,565.57 L197.00,566.24 L201.71,566.92 L202.66,567.76 L202.66,569.36 L201.71,570.20 L196.06,570.20 M207.13,570.20 L211.47,570.20 L212.60,569.19 L212.60,563.63 L211.47,562.62 L207.13,562.62 L206.00,563.63 L206.00,569.19 L207.13,570.20 M215.94,570.20 L215.94,562.62 M215.94,563.97 L217.45,562.62 L221.97,562.62 M235.14,560.10 L235.14,570.20 L242.68,570.20 M246.02,566.41 L252.62,566.41 L252.62,563.63 L251.49,562.62 L247.16,562.62 L246.02,563.63 L246.02,569.19 L247.16,570.20 L252.62,570.20 M257.10,570.20 L261.43,570.20 L262.56,569.19 L262.56,563.63 L261.43,562.62 L257.10,562.62 L255.96,563.63 L255.96,569.19 L257.10,570.20 M262.56,562.62 L262.56,570.20 M272.50,560.10 L272.50,570.20 L267.03,570.20 L265.90,569.19 L265.90,563.63 L267.03,562.62 L272.50,562.62" stroke-width="1.15" stroke-linejoin="miter"/>
<path d="M166.10,580.30 L173.35,580.30 M169.73,580.30 L169.73,592.00 M177.48,592.00 L177.48,583.22 M177.48,581.66 L177.48,580.30 M181.60,595.90 L181.60,583.22 L186.86,583.22 L187.95,584.39 L187.95,590.83 L186.86,592.00 L181.60,592.00 M202.26,580.30 L202.26,592.00 M200.63,583.22 L204.98,583.22 M209.28,592.00 L213.46,592.00 L214.54,590.83 L214.54,584.39 L213.46,583.22 L209.28,583.22 L208.20,584.39 L208.20,590.83 L209.28,592.00 M227.22,580.30 L227.22,592.00 L234.47,592.00 M237.69,587.61 L244.04,587.61 L244.04,584.39 L242.95,583.22 L238.78,583.22 L237.69,584.39 L237.69,590.83 L238.78,592.00 L244.04,592.00 M247.26,592.00 L247.26,583.22 M247.26,584.39 L248.34,583.22 L252.52,583.22 L253.60,584.39 L253.60,592.00 M263.17,583.22 L257.73,583.22 L256.82,584.20 L256.82,586.64 L257.73,587.42 L262.26,588.20 L263.17,589.17 L263.17,591.02 L262.26,592.00 L256.82,592.00 M283.10,580.30 L277.30,580.30 L275.85,581.86 L275.85,590.44 L277.30,592.00 L283.10,592.00 L283.10,586.93 L279.83,586.93 M287.41,592.00 L291.58,592.00 L292.66,590.83 L292.66,584.39 L291.58,583.22 L287.41,583.22 L286.32,584.39 L286.32,590.83 L287.41,592.00 M292.66,583.22 L292.66,592.00 M297.51,580.30 L297.51,592.00 M295.88,583.22 L300.23,583.22 M303.45,587.61 L309.80,587.61 L309.80,584.39 L308.71,583.22 L304.54,583.22 L303.45,584.39 L303.45,590.83 L304.54,592.00 L309.80,592.00" stroke-width="1.15" stroke-linejoin="miter"/>
<path d="M460.60,570.86 L462.02,569.30 L466.29,569.30 L467.71,570.86 L467.71,573.98 L460.60,579.83 L460.60,581.00 L467.71,581.00 M471.76,581.00 L471.76,579.25 M477.23,575.15 L475.80,573.59 L475.80,570.86 L477.23,569.30 L481.50,569.30 L482.92,570.86 L482.92,573.59 L481.50,575.15 L477.23,575.15 L475.80,576.71 L475.80,579.44 L477.23,581.00 L481.50,581.00 L482.92,579.44 L482.92,576.71 L481.50,575.15 M489.63,581.00 L489.63,569.30 L487.14,571.44" stroke-width="1.15" stroke-linejoin="miter"/>
<path d="M461.69,602.70 L464.86,602.70 L466.45,600.72 L466.45,592.78 L464.86,590.80 L461.69,590.80 L460.10,592.78 L460.10,600.72 L461.69,602.70 M470.06,602.70 L470.06,600.92 M476.85,602.70 L476.85,590.80 L474.63,592.98 M483.80,602.70 L483.80,590.80 L481.58,592.98 M490.75,602.70 L490.75,590.80 L488.52,592.98" stroke-width="1.15" stroke-linejoin="miter"/>
<path d="M514.00,568.50 L521.29,568.50 M517.65,568.50 L517.65,580.20 M525.62,580.20 L529.82,580.20 L530.91,579.03 L530.91,572.60 L529.82,571.42 L525.62,571.42 L524.53,572.60 L524.53,579.03 L525.62,580.20 M534.15,584.10 L534.15,571.42 L539.43,571.42 L540.53,572.60 L540.53,579.03 L539.43,580.20 L534.15,580.20 M554.37,580.20 L558.56,580.20 L559.65,579.03 L559.65,572.60 L558.56,571.42 L554.37,571.42 L553.27,572.60 L553.27,579.03 L554.37,580.20 M564.53,580.20 L564.53,569.67 L565.62,568.50 L567.63,568.50 M562.89,571.42 L566.90,571.42 M587.67,568.50 L581.65,568.50 L580.37,569.87 L580.37,572.79 L581.47,573.76 L586.57,574.94 L587.67,576.11 L587.67,578.84 L586.39,580.20 L580.01,580.20 M590.90,575.81 L597.28,575.81 L597.28,572.60 L596.19,571.42 L592.00,571.42 L590.90,572.60 L590.90,579.03 L592.00,580.20 L597.28,580.20 M600.52,580.20 L600.52,571.42 M600.52,572.60 L601.61,571.42 L605.81,571.42 L606.90,572.60 L606.90,580.20 M616.52,571.42 L611.05,571.42 L610.14,572.40 L610.14,574.84 L611.05,575.62 L615.61,576.40 L616.52,577.37 L616.52,579.23 L615.61,580.20 L610.14,580.20 M620.85,580.20 L625.04,580.20 L626.14,579.03 L626.14,572.60 L625.04,571.42 L620.85,571.42 L619.75,572.60 L619.75,579.03 L620.85,580.20 M629.37,580.20 L629.37,571.42 M629.37,572.99 L630.83,571.42 L635.20,571.42 M647.95,580.20 L647.95,568.50 L653.78,568.50 L655.24,570.06 L655.24,572.79 L653.78,574.35 L647.95,574.35 M665.77,568.50 L659.94,568.50 L658.48,570.06 L658.48,578.64 L659.94,580.20 L665.77,580.20 M669.01,580.20 L669.01,568.50 L674.84,568.50 L676.30,570.06 L676.30,572.79 L674.84,574.35 L669.01,574.35 M674.84,574.35 L676.30,575.91 L676.30,578.64 L674.84,580.20 L669.01,580.20" stroke-width="1.15" stroke-linejoin="miter"/>
<path d="M515.33,590.30 L515.33,602.00 M513.70,593.22 L518.05,593.22 M522.35,602.00 L526.52,602.00 L527.61,600.83 L527.61,594.39 L526.52,593.22 L522.35,593.22 L521.27,594.39 L521.27,600.83 L522.35,602.00 M540.28,590.30 L547.53,590.30 M543.91,590.30 L543.91,602.00 M551.84,602.00 L556.00,602.00 L557.09,600.83 L557.09,594.39 L556.00,593.22 L551.84,593.22 L550.75,594.39 L550.75,600.83 L551.84,602.00 M560.31,605.90 L560.31,593.22 L565.57,593.22 L566.65,594.39 L566.65,600.83 L565.57,602.00 L560.31,602.00 M580.41,602.00 L584.58,602.00 L585.67,600.83 L585.67,594.39 L584.58,593.22 L580.41,593.22 L579.32,594.39 L579.32,600.83 L580.41,602.00 M590.51,602.00 L590.51,591.47 L591.60,590.30 L593.60,590.30 M588.88,593.22 L592.87,593.22 M606.27,590.30 L606.27,602.00 L613.52,602.00 M616.73,597.61 L623.08,597.61 L623.08,594.39 L621.99,593.22 L617.82,593.22 L616.73,594.39 L616.73,600.83 L617.82,602.00 L623.08,602.00 M626.29,602.00 L626.29,593.22 M626.29,594.39 L627.38,593.22 L631.55,593.22 L632.64,594.39 L632.64,602.00 M642.20,593.22 L636.76,593.22 L635.85,594.20 L635.85,596.64 L636.76,597.42 L641.29,598.20 L642.20,599.17 L642.20,601.02 L641.29,602.00 L635.85,602.00 M661.21,593.22 L655.96,593.22 L654.87,594.39 L654.87,600.83 L655.96,602.00 L661.21,602.00 M661.21,593.22 L661.21,604.73 L660.12,605.90 L655.59,605.90 M665.52,602.00 L669.69,602.00 L670.77,600.83 L670.77,594.39 L669.69,593.22 L665.52,593.22 L664.43,594.39 L664.43,600.83 L665.52,602.00 M670.77,593.22 L670.77,602.00 M675.62,590.30 L675.62,602.00 M673.99,593.22 L678.34,593.22 M681.56,597.61 L687.90,597.61 L687.90,594.39 L686.81,593.22 L682.64,593.22 L681.56,594.39 L681.56,600.83 L682.64,602.00 L687.90,602.00" stroke-width="1.15" stroke-linejoin="miter"/>
<path d="M575.60,420.79 L576.98,419.30 L581.12,419.30 L582.50,420.79 L582.50,423.78 L575.60,429.38 L575.60,430.50 L582.50,430.50 M586.42,430.50 L586.42,428.82 M590.34,419.30 L595.86,419.30 L597.24,420.79 L597.24,423.41 L595.86,424.90 L592.76,424.90 M595.86,424.90 L597.24,426.39 L597.24,429.01 L595.86,430.50 L590.34,430.50 M602.03,430.50 L605.48,430.50 L607.20,428.63 L607.20,421.17 L605.48,419.30 L602.03,419.30 L600.30,421.17 L600.30,428.63 L602.03,430.50" stroke-width="1.15" stroke-linejoin="miter"/>
<path d="M574.94,454.30 L578.23,454.30 L579.87,452.18 L579.87,443.72 L578.23,441.60 L574.94,441.60 L573.30,443.72 L573.30,452.18 L574.94,454.30 M583.61,454.30 L583.61,452.40 M588.99,454.30 L592.28,454.30 L593.92,452.18 L593.92,443.72 L592.28,441.60 L588.99,441.60 L587.35,443.72 L587.35,452.18 L588.99,454.30 M597.50,454.30 L601.77,454.30 L603.41,452.18 L603.41,443.29 L602.10,441.60 L598.15,441.60 L596.84,443.29 L596.84,447.10 L598.15,448.80 L603.41,448.80 M609.61,454.30 L609.61,441.60 L607.31,443.93" stroke-width="1.15" stroke-linejoin="miter"/>
<path d="M624.90,430.20 L624.90,419.00 L630.67,419.00 L632.11,420.49 L632.11,423.11 L630.67,424.60 L624.90,424.60 M630.67,424.60 L632.11,426.09 L632.11,428.71 L630.67,430.20 L624.90,430.20 M636.39,430.20 L640.54,430.20 L641.62,429.08 L641.62,422.92 L640.54,421.80 L636.39,421.80 L635.31,422.92 L635.31,429.08 L636.39,430.20 M646.44,419.00 L646.44,430.20 M644.82,421.80 L649.15,421.80 M653.97,419.00 L653.97,430.20 M652.35,421.80 L656.67,421.80 M660.95,430.20 L665.10,430.20 L666.18,429.08 L666.18,422.92 L665.10,421.80 L660.95,421.80 L659.87,422.92 L659.87,429.08 L660.95,430.20 M669.38,430.20 L669.38,421.80 L676.23,421.80 L677.32,422.92 L677.32,430.20 M673.35,421.80 L673.35,430.20 M691.00,430.20 L695.15,430.20 L696.23,429.08 L696.23,422.92 L695.15,421.80 L691.00,421.80 L689.92,422.92 L689.92,429.08 L691.00,430.20 M701.05,430.20 L701.05,420.12 L702.13,419.00 L704.12,419.00 M699.43,421.80 L703.39,421.80 M716.72,419.00 L720.32,430.20 L723.93,419.00 M734.34,419.00 L728.57,419.00 L727.13,420.49 L727.13,428.71 L728.57,430.20 L734.34,430.20 M744.75,419.00 L738.80,419.00 L737.54,420.31 L737.54,423.11 L738.62,424.04 L743.67,425.16 L744.75,426.28 L744.75,428.89 L743.49,430.20 L737.18,430.20 M755.16,419.00 L747.95,419.00 L747.95,430.20 L755.16,430.20 M747.95,424.60 L753.36,424.60 M758.36,419.00 L758.36,430.20 L765.57,430.20 M784.49,421.80 L779.26,421.80 L778.18,422.92 L778.18,429.08 L779.26,430.20 L784.49,430.20 M788.59,430.20 L788.59,419.00 M793.59,430.20 L793.59,421.80 M793.59,420.31 L793.59,419.00 M797.69,433.93 L797.69,421.80 L802.92,421.80 L804.00,422.92 L804.00,429.08 L802.92,430.20 L797.69,430.20" stroke-width="1.15" stroke-linejoin="miter"/>
<path d="M626.54,440.30 L626.54,452.70 M624.90,443.40 L629.28,443.40 M633.62,452.70 L637.82,452.70 L638.92,451.46 L638.92,444.64 L637.82,443.40 L633.62,443.40 L632.53,444.64 L632.53,451.46 L633.62,452.70 M651.69,440.30 L659.00,440.30 M655.34,440.30 L655.34,452.70 M663.33,452.70 L667.54,452.70 L668.63,451.46 L668.63,444.64 L667.54,443.40 L663.33,443.40 L662.24,444.64 L662.24,451.46 L663.33,452.70 M671.87,456.83 L671.87,443.40 L677.17,443.40 L678.27,444.64 L678.27,451.46 L677.17,452.70 L671.87,452.70 M692.13,452.70 L696.33,452.70 L697.43,451.46 L697.43,444.64 L696.33,443.40 L692.13,443.40 L691.04,444.64 L691.04,451.46 L692.13,452.70 M702.32,452.70 L702.32,441.54 L703.41,440.30 L705.42,440.30 M700.67,443.40 L704.69,443.40 M725.50,440.30 L719.47,440.30 L718.19,441.75 L718.19,444.85 L719.29,445.88 L724.40,447.12 L725.50,448.36 L725.50,451.25 L724.22,452.70 L717.82,452.70 M728.74,448.05 L735.13,448.05 L735.13,444.64 L734.04,443.40 L729.83,443.40 L728.74,444.64 L728.74,451.46 L729.83,452.70 L735.13,452.70 M738.37,452.70 L738.37,443.40 M738.37,444.64 L739.47,443.40 L743.67,443.40 L744.77,444.64 L744.77,452.70 M754.40,443.40 L748.92,443.40 L748.01,444.43 L748.01,447.02 L748.92,447.84 L753.49,448.67 L754.40,449.70 L754.40,451.67 L753.49,452.70 L748.01,452.70 M758.74,452.70 L762.94,452.70 L764.04,451.46 L764.04,444.64 L762.94,443.40 L758.74,443.40 L757.64,444.64 L757.64,451.46 L758.74,452.70 M767.28,452.70 L767.28,443.40 M767.28,445.05 L768.74,443.40 L773.13,443.40 M785.89,452.70 L785.89,440.30 L791.74,440.30 L793.20,441.95 L793.20,444.85 L791.74,446.50 L785.89,446.50 M803.75,440.30 L797.91,440.30 L796.44,441.95 L796.44,451.05 L797.91,452.70 L803.75,452.70 M806.99,452.70 L806.99,440.30 L812.84,440.30 L814.30,441.95 L814.30,444.85 L812.84,446.50 L806.99,446.50 M812.84,446.50 L814.30,448.15 L814.30,451.05 L812.84,452.70 L806.99,452.70" stroke-width="1.15" stroke-linejoin="miter"/>
<path d="M4.47,976.80 L4.47,965.40 L2.04,967.49 M13.80,965.40 L8.59,974.14 L15.54,974.14 M13.97,971.48 L13.97,976.80 M19.48,976.80 L19.48,975.09 M23.43,965.40 L28.99,965.40 L30.38,966.92 L30.38,969.58 L28.99,971.10 L25.86,971.10 M28.99,971.10 L30.38,972.62 L30.38,975.28 L28.99,976.80 L23.43,976.80 M33.46,966.92 L34.85,965.40 L39.01,965.40 L40.40,966.92 L40.40,969.96 L33.46,975.66 L33.46,976.80 L40.40,976.80" stroke-width="1.15" stroke-linejoin="miter"/>
<path d="M1.68,998.50 L5.03,998.50 L6.71,996.60 L6.71,989.00 L5.03,987.10 L1.68,987.10 L0.00,989.00 L0.00,996.60 L1.68,998.50 M10.52,998.50 L10.52,996.79 M21.04,987.10 L14.83,987.10 L14.83,992.04 L19.70,992.04 L21.04,993.56 L21.04,996.98 L19.70,998.50 L14.33,998.50 M30.05,987.10 L25.69,987.10 L24.01,989.00 L24.01,996.98 L25.35,998.50 L29.38,998.50 L30.72,996.98 L30.72,993.56 L29.38,992.04 L24.01,992.04 M38.72,987.10 L33.69,995.84 L40.40,995.84 M38.89,993.18 L38.89,998.50" stroke-width="1.15" stroke-linejoin="miter"/>
<path d="M63.20,972.20 L70.44,972.20 M66.82,972.20 L66.82,983.70 M74.73,983.70 L78.90,983.70 L79.98,982.55 L79.98,976.23 L78.90,975.08 L74.73,975.08 L73.65,976.23 L73.65,982.55 L74.73,983.70 M83.19,987.53 L83.19,975.08 L88.44,975.08 L89.53,976.23 L89.53,982.55 L88.44,983.70 L83.19,983.70 M103.26,983.70 L107.42,983.70 L108.51,982.55 L108.51,976.23 L107.42,975.08 L103.26,975.08 L102.17,976.23 L102.17,982.55 L103.26,983.70 M113.35,983.70 L113.35,973.35 L114.43,972.20 L116.42,972.20 M111.72,975.08 L115.70,975.08 M136.31,972.20 L130.34,972.20 L129.07,973.54 L129.07,976.42 L130.16,977.38 L135.22,978.53 L136.31,979.68 L136.31,982.36 L135.04,983.70 L128.71,983.70 M139.52,979.39 L145.85,979.39 L145.85,976.23 L144.77,975.08 L140.61,975.08 L139.52,976.23 L139.52,982.55 L140.61,983.70 L145.85,983.70 M149.06,983.70 L149.06,975.08 M149.06,976.23 L150.15,975.08 L154.31,975.08 L155.40,976.23 L155.40,983.70 M164.94,975.08 L159.51,975.08 L158.61,976.03 L158.61,978.43 L159.51,979.20 L164.04,979.96 L164.94,980.92 L164.94,982.74 L164.04,983.70 L158.61,983.70 M169.24,983.70 L173.40,983.70 L174.49,982.55 L174.49,976.23 L173.40,975.08 L169.24,975.08 L168.15,976.23 L168.15,982.55 L169.24,983.70 M177.70,983.70 L177.70,975.08 M177.70,976.61 L179.14,975.08 L183.49,975.08 M197.76,972.20 L197.76,983.70 M196.13,975.08 L200.48,975.08 M204.77,983.70 L208.94,983.70 L210.02,982.55 L210.02,976.23 L208.94,975.08 L204.77,975.08 L203.69,976.23 L203.69,982.55 L204.77,983.70 M229.91,972.20 L223.94,972.20 L222.67,973.54 L222.67,976.42 L223.75,977.38 L228.82,978.53 L229.91,979.68 L229.91,982.36 L228.64,983.70 L222.31,983.70 M233.12,975.08 L233.12,982.55 L234.20,983.70 L239.45,983.70 M239.45,975.08 L239.45,983.70 M242.66,983.70 L242.66,975.08 M242.66,976.61 L244.11,975.08 L248.45,975.08 M253.29,983.70 L253.29,973.35 L254.38,972.20 L256.37,972.20 M251.66,975.08 L255.64,975.08 M260.66,983.70 L264.83,983.70 L265.91,982.55 L265.91,976.23 L264.83,975.08 L260.66,975.08 L259.58,976.23 L259.58,982.55 L260.66,983.70 M265.91,975.08 L265.91,983.70 M275.46,975.08 L270.21,975.08 L269.12,976.23 L269.12,982.55 L270.21,983.70 L275.46,983.70 M278.67,979.39 L285.00,979.39 L285.00,976.23 L283.91,975.08 L279.75,975.08 L278.67,976.23 L278.67,982.55 L279.75,983.70 L285.00,983.70" stroke-width="1.15" stroke-linejoin="miter"/>
<path d="M82.40,919.30 L89.43,919.30 L84.51,930.70 M93.43,930.70 L93.43,928.99 M102.70,919.30 L97.42,928.04 L104.45,928.04 M102.87,925.38 L102.87,930.70 M114.60,919.30 L108.10,919.30 L108.10,924.24 L113.19,924.24 L114.60,925.76 L114.60,929.18 L113.19,930.70 L107.57,930.70" stroke-width="1.15" stroke-linejoin="miter"/>
<path d="M79.06,952.50 L82.58,952.50 L84.34,950.53 L84.34,942.67 L82.58,940.70 L79.06,940.70 L77.30,942.67 L77.30,950.53 L79.06,952.50 M88.34,952.50 L88.34,950.73 M92.34,942.27 L93.75,940.70 L97.97,940.70 L99.38,942.27 L99.38,945.42 L92.34,951.32 L92.34,952.50 L99.38,952.50 M103.21,952.50 L107.78,952.50 L109.54,950.53 L109.54,942.27 L108.13,940.70 L103.91,940.70 L102.50,942.27 L102.50,945.81 L103.91,947.39 L109.54,947.39 M112.66,940.70 L118.29,940.70 L119.70,942.27 L119.70,945.03 L118.29,946.60 L115.13,946.60 M118.29,946.60 L119.70,948.17 L119.70,950.93 L118.29,952.50 L112.66,952.50" stroke-width="1.15" stroke-linejoin="miter"/>
<path d="M142.50,927.00 L149.74,927.00 M146.12,927.00 L146.12,938.80 M154.04,938.80 L158.20,938.80 L159.28,937.62 L159.28,931.13 L158.20,929.95 L154.04,929.95 L152.95,931.13 L152.95,937.62 L154.04,938.80 M162.49,942.73 L162.49,929.95 L167.74,929.95 L168.83,931.13 L168.83,937.62 L167.74,938.80 L162.49,938.80 M182.56,938.80 L186.72,938.80 L187.81,937.62 L187.81,931.13 L186.72,929.95 L182.56,929.95 L181.48,931.13 L181.48,937.62 L182.56,938.80 M192.65,938.80 L192.65,928.18 L193.74,927.00 L195.73,927.00 M191.02,929.95 L195.00,929.95 M215.61,927.00 L209.64,927.00 L208.37,928.38 L208.37,931.33 L209.46,932.31 L214.53,933.49 L215.61,934.67 L215.61,937.42 L214.35,938.80 L208.01,938.80 M218.82,934.38 L225.16,934.38 L225.16,931.13 L224.07,929.95 L219.91,929.95 L218.82,931.13 L218.82,937.62 L219.91,938.80 L225.16,938.80 M228.37,938.80 L228.37,929.95 M228.37,931.13 L229.45,929.95 L233.62,929.95 L234.70,931.13 L234.70,938.80 M244.25,929.95 L238.82,929.95 L237.91,930.93 L237.91,933.39 L238.82,934.18 L243.34,934.96 L244.25,935.95 L244.25,937.82 L243.34,938.80 L237.91,938.80 M248.54,938.80 L252.71,938.80 L253.79,937.62 L253.79,931.13 L252.71,929.95 L248.54,929.95 L247.46,931.13 L247.46,937.62 L248.54,938.80 M257.00,938.80 L257.00,929.95 M257.00,931.52 L258.45,929.95 L262.79,929.95 M275.44,938.80 L275.44,927.00 L281.23,927.00 L282.68,928.57 L282.68,931.33 L281.23,932.90 L275.44,932.90 M293.13,927.00 L287.34,927.00 L285.89,928.57 L285.89,937.23 L287.34,938.80 L293.13,938.80 M296.34,938.80 L296.34,927.00 L302.13,927.00 L303.58,928.57 L303.58,931.33 L302.13,932.90 L296.34,932.90 M302.13,932.90 L303.58,934.47 L303.58,937.23 L302.13,938.80 L296.34,938.80 M317.86,927.00 L317.86,938.80 M316.23,929.95 L320.57,929.95 M324.87,938.80 L329.03,938.80 L330.12,937.62 L330.12,931.13 L329.03,929.95 L324.87,929.95 L323.78,931.13 L323.78,937.62 L324.87,938.80 M350.00,927.00 L344.03,927.00 L342.76,928.38 L342.76,931.33 L343.85,932.31 L348.92,933.49 L350.00,934.67 L350.00,937.42 L348.74,938.80 L342.40,938.80 M353.21,929.95 L353.21,937.62 L354.30,938.80 L359.55,938.80 M359.55,929.95 L359.55,938.80 M362.76,938.80 L362.76,929.95 M362.76,931.52 L364.21,929.95 L368.55,929.95 M373.39,938.80 L373.39,928.18 L374.48,927.00 L376.47,927.00 M371.76,929.95 L375.74,929.95 M380.76,938.80 L384.92,938.80 L386.01,937.62 L386.01,931.13 L384.92,929.95 L380.76,929.95 L379.68,931.13 L379.68,937.62 L380.76,938.80 M386.01,929.95 L386.01,938.80 M395.56,929.95 L390.31,929.95 L389.22,931.13 L389.22,937.62 L390.31,938.80 L395.56,938.80 M398.77,934.38 L405.10,934.38 L405.10,931.13 L404.01,929.95 L399.85,929.95 L398.77,931.13 L398.77,937.62 L399.85,938.80 L405.10,938.80" stroke-width="1.15" stroke-linejoin="miter"/>
<path d="M153.50,878.84 L154.83,877.40 L158.81,877.40 L160.14,878.84 L160.14,881.72 L153.50,887.12 L153.50,888.20 L160.14,888.20 M163.91,888.20 L163.91,886.58 M172.66,877.40 L167.68,885.68 L174.32,885.68 M172.83,883.16 L172.83,888.20 M178.92,888.20 L182.24,888.20 L183.90,886.40 L183.90,879.20 L182.24,877.40 L178.92,877.40 L177.26,879.20 L177.26,886.40 L178.92,888.20" stroke-width="1.15" stroke-linejoin="miter"/>
<path d="M150.98,910.60 L154.33,910.60 L156.01,908.70 L156.01,901.10 L154.33,899.20 L150.98,899.20 L149.30,901.10 L149.30,908.70 L150.98,910.60 M159.82,910.60 L159.82,908.89 M165.31,910.60 L168.66,910.60 L170.34,908.70 L170.34,901.10 L168.66,899.20 L165.31,899.20 L163.63,901.10 L163.63,908.70 L165.31,910.60 M173.98,910.60 L178.34,910.60 L180.02,908.70 L180.02,900.72 L178.68,899.20 L174.65,899.20 L173.31,900.72 L173.31,904.14 L174.65,905.66 L180.02,905.66 M188.02,899.20 L182.99,907.94 L189.70,907.94 M188.19,905.28 L188.19,910.60" stroke-width="1.15" stroke-linejoin="miter"/>
<path d="M212.10,898.50 L212.10,886.90 L217.83,886.90 L219.26,888.45 L219.26,891.15 L217.83,892.70 L212.10,892.70 M217.83,892.70 L219.26,894.25 L219.26,896.95 L217.83,898.50 L212.10,898.50 M223.51,898.50 L227.63,898.50 L228.70,897.34 L228.70,890.96 L227.63,889.80 L223.51,889.80 L222.44,890.96 L222.44,897.34 L223.51,898.50 M233.49,886.90 L233.49,898.50 M231.88,889.80 L236.18,889.80 M240.97,886.90 L240.97,898.50 M239.35,889.80 L243.65,889.80 M247.90,898.50 L252.02,898.50 L253.09,897.34 L253.09,890.96 L252.02,889.80 L247.90,889.80 L246.83,890.96 L246.83,897.34 L247.90,898.50 M256.27,898.50 L256.27,889.80 L263.07,889.80 L264.15,890.96 L264.15,898.50 M260.21,889.80 L260.21,898.50 M277.74,898.50 L281.85,898.50 L282.93,897.34 L282.93,890.96 L281.85,889.80 L277.74,889.80 L276.66,890.96 L276.66,897.34 L277.74,898.50 M287.72,898.50 L287.72,888.06 L288.79,886.90 L290.76,886.90 M286.10,889.80 L290.04,889.80 M303.27,886.90 L303.27,898.50 L310.43,898.50 M313.61,894.15 L319.88,894.15 L319.88,890.96 L318.80,889.80 L314.69,889.80 L313.61,890.96 L313.61,897.34 L314.69,898.50 L319.88,898.50 M323.05,898.50 L323.05,889.80 M323.05,890.96 L324.13,889.80 L328.25,889.80 L329.32,890.96 L329.32,898.50 M338.76,889.80 L333.39,889.80 L332.50,890.77 L332.50,893.18 L333.39,893.96 L337.87,894.73 L338.76,895.70 L338.76,897.53 L337.87,898.50 L332.50,898.50 M352.89,886.90 L352.89,898.50 M351.28,889.80 L355.57,889.80 M359.82,898.50 L363.94,898.50 L365.02,897.34 L365.02,890.96 L363.94,889.80 L359.82,889.80 L358.75,890.96 L358.75,897.34 L359.82,898.50 M384.69,886.90 L378.78,886.90 L377.53,888.25 L377.53,891.15 L378.60,892.12 L383.62,893.28 L384.69,894.44 L384.69,897.15 L383.44,898.50 L377.17,898.50 M387.87,889.80 L387.87,897.34 L388.94,898.50 L394.13,898.50 M394.13,889.80 L394.13,898.50 M397.31,898.50 L397.31,889.80 M397.31,891.35 L398.74,889.80 L403.04,889.80 M407.83,898.50 L407.83,888.06 L408.90,886.90 L410.87,886.90 M406.22,889.80 L410.16,889.80 M415.12,898.50 L419.24,898.50 L420.31,897.34 L420.31,890.96 L419.24,889.80 L415.12,889.80 L414.05,890.96 L414.05,897.34 L415.12,898.50 M420.31,889.80 L420.31,898.50 M429.76,889.80 L424.57,889.80 L423.49,890.96 L423.49,897.34 L424.57,898.50 L429.76,898.50 M432.93,894.15 L439.20,894.15 L439.20,890.96 L438.13,889.80 L434.01,889.80 L432.93,890.96 L432.93,897.34 L434.01,898.50 L439.20,898.50" stroke-width="1.15" stroke-linejoin="miter"/>
<path d="M500.60,815.60 L506.40,815.60 L507.85,817.09 L507.85,819.71 L506.40,821.20 L503.14,821.20 M506.40,821.20 L507.85,822.69 L507.85,825.31 L506.40,826.80 L500.60,826.80 M511.97,826.80 L511.97,825.12 M516.09,815.60 L523.34,815.60 L518.26,826.80 M533.80,815.60 L527.10,815.60 L527.10,820.45 L532.35,820.45 L533.80,821.95 L533.80,825.31 L532.35,826.80 L526.55,826.80" stroke-width="1.15" stroke-linejoin="miter"/>
<path d="M500.66,848.80 L503.97,848.80 L505.63,846.88 L505.63,839.22 L503.97,837.30 L500.66,837.30 L499.00,839.22 L499.00,846.88 L500.66,848.80 M509.39,848.80 L509.39,847.07 M516.47,848.80 L516.47,837.30 L514.16,839.41 M525.38,837.30 L520.41,846.12 L527.03,846.12 M525.54,843.43 L525.54,848.80 M531.30,843.05 L529.97,841.52 L529.97,838.83 L531.30,837.30 L535.27,837.30 L536.60,838.83 L536.60,841.52 L535.27,843.05 L531.30,843.05 L529.97,844.58 L529.97,847.27 L531.30,848.80 L535.27,848.80 L536.60,847.27 L536.60,844.58 L535.27,843.05" stroke-width="1.15" stroke-linejoin="miter"/>
<path d="M559.20,818.20 L566.60,818.20 M562.90,818.20 L562.90,829.90 M570.99,829.90 L575.24,829.90 L576.35,828.73 L576.35,822.30 L575.24,821.12 L570.99,821.12 L569.88,822.30 L569.88,828.73 L570.99,829.90 M579.63,833.80 L579.63,821.12 L584.99,821.12 L586.10,822.30 L586.10,828.73 L584.99,829.90 L579.63,829.90 M600.14,829.90 L604.39,829.90 L605.50,828.73 L605.50,822.30 L604.39,821.12 L600.14,821.12 L599.03,822.30 L599.03,828.73 L600.14,829.90 M610.45,829.90 L610.45,819.37 L611.56,818.20 L613.59,818.20 M608.78,821.12 L612.85,821.12 M633.91,818.20 L627.81,818.20 L626.51,819.57 L626.51,822.49 L627.62,823.47 L632.80,824.63 L633.91,825.80 L633.91,828.53 L632.62,829.90 L626.14,829.90 M637.19,825.51 L643.66,825.51 L643.66,822.30 L642.55,821.12 L638.30,821.12 L637.19,822.30 L637.19,828.73 L638.30,829.90 L643.66,829.90 M646.95,829.90 L646.95,821.12 M646.95,822.30 L648.05,821.12 L652.31,821.12 L653.42,822.30 L653.42,829.90 M663.17,821.12 L657.62,821.12 L656.70,822.10 L656.70,824.54 L657.62,825.32 L662.25,826.10 L663.17,827.07 L663.17,828.92 L662.25,829.90 L656.70,829.90 M667.56,829.90 L671.81,829.90 L672.92,828.73 L672.92,822.30 L671.81,821.12 L667.56,821.12 L666.45,822.30 L666.45,828.73 L667.56,829.90 M676.21,829.90 L676.21,821.12 M676.21,822.69 L677.68,821.12 L682.12,821.12 M695.05,829.90 L695.05,818.20 L700.96,818.20 L702.44,819.76 L702.44,822.49 L700.96,824.05 L695.05,824.05 M713.12,818.20 L707.20,818.20 L705.73,819.76 L705.73,828.34 L707.20,829.90 L713.12,829.90 M716.40,829.90 L716.40,818.20 L722.32,818.20 L723.80,819.76 L723.80,822.49 L722.32,824.05 L716.40,824.05 M722.32,824.05 L723.80,825.61 L723.80,828.34 L722.32,829.90 L716.40,829.90" stroke-width="1.15" stroke-linejoin="miter"/>
<path d="M560.84,840.00 L560.84,851.60 M559.20,842.90 L563.57,842.90 M567.89,851.60 L572.08,851.60 L573.17,850.44 L573.17,844.06 L572.08,842.90 L567.89,842.90 L566.80,844.06 L566.80,850.44 L567.89,851.60 M585.89,840.00 L593.17,840.00 M589.53,840.00 L589.53,851.60 M597.50,851.60 L601.68,851.60 L602.78,850.44 L602.78,844.06 L601.68,842.90 L597.50,842.90 L596.40,844.06 L596.40,850.44 L597.50,851.60 M606.01,855.47 L606.01,842.90 L611.28,842.90 L612.38,844.06 L612.38,850.44 L611.28,851.60 L606.01,851.60 M626.19,851.60 L630.38,851.60 L631.47,850.44 L631.47,844.06 L630.38,842.90 L626.19,842.90 L625.10,844.06 L625.10,850.44 L626.19,851.60 M636.34,851.60 L636.34,841.16 L637.43,840.00 L639.43,840.00 M634.70,842.90 L638.71,842.90 M652.16,840.00 L652.16,851.60 L659.44,851.60 M662.67,847.25 L669.04,847.25 L669.04,844.06 L667.95,842.90 L663.76,842.90 L662.67,844.06 L662.67,850.44 L663.76,851.60 L669.04,851.60 M672.27,851.60 L672.27,842.90 M672.27,844.06 L673.36,842.90 L677.55,842.90 L678.64,844.06 L678.64,851.60 M688.24,842.90 L682.78,842.90 L681.87,843.87 L681.87,846.28 L682.78,847.06 L687.33,847.83 L688.24,848.80 L688.24,850.63 L687.33,851.60 L681.87,851.60 M700.97,851.60 L700.97,840.00 L706.79,840.00 L708.25,841.55 L708.25,844.25 L706.79,845.80 L700.97,845.80 M705.70,845.80 L708.25,851.60 M712.39,851.60 L712.39,842.90 M712.39,841.35 L712.39,840.00 M716.53,851.60 L716.53,842.90 M716.53,844.06 L717.62,842.90 L721.81,842.90 L722.90,844.06 L722.90,851.60 M732.50,842.90 L727.22,842.90 L726.13,844.06 L726.13,850.44 L727.22,851.60 L732.50,851.60 M732.50,842.90 L732.50,854.31 L731.41,855.47 L726.86,855.47" stroke-width="1.15" stroke-linejoin="miter"/>
<path d="M646.00,657.29 L647.35,655.90 L651.41,655.90 L652.77,657.29 L652.77,660.06 L646.00,665.26 L646.00,666.30 L652.77,666.30 M657.46,666.30 L660.84,666.30 L662.54,664.57 L662.54,657.63 L660.84,655.90 L657.46,655.90 L655.77,657.63 L655.77,664.57 L657.46,666.30 M666.38,666.30 L666.38,664.74 M673.62,666.30 L673.62,655.90 L671.25,657.81 M677.63,655.90 L683.05,655.90 L684.40,657.29 L684.40,659.71 L683.05,661.10 L680.00,661.10 M683.05,661.10 L684.40,662.49 L684.40,664.91 L683.05,666.30 L677.63,666.30" stroke-width="1.15" stroke-linejoin="miter"/>
<path d="M646.66,689.60 L650.17,689.60 L651.92,687.62 L651.92,679.68 L650.17,677.70 L646.66,677.70 L644.90,679.68 L644.90,687.62 L646.66,689.60 M655.91,689.60 L655.91,687.82 M659.91,677.70 L666.93,677.70 L662.01,689.60 M670.74,689.60 L675.31,689.60 L677.06,687.62 L677.06,679.29 L675.66,677.70 L671.45,677.70 L670.04,679.29 L670.04,682.86 L671.45,684.44 L677.06,684.44 M680.18,679.29 L681.58,677.70 L685.80,677.70 L687.20,679.29 L687.20,682.46 L680.18,688.41 L680.18,689.60 L687.20,689.60" stroke-width="1.15" stroke-linejoin="miter"/>
<path d="M702.70,667.20 L709.91,667.20 M706.30,667.20 L706.30,679.20 M714.01,679.20 L714.01,670.20 M714.01,668.60 L714.01,667.20 M718.10,683.20 L718.10,670.20 L723.33,670.20 L724.41,671.40 L724.41,678.00 L723.33,679.20 L718.10,679.20 M738.08,679.20 L742.23,679.20 L743.31,678.00 L743.31,671.40 L742.23,670.20 L738.08,670.20 L737.00,671.40 L737.00,678.00 L738.08,679.20 M748.13,679.20 L748.13,668.40 L749.21,667.20 L751.19,667.20 M746.51,670.20 L750.47,670.20 M763.79,667.20 L767.39,679.20 L770.99,667.20 M781.40,667.20 L775.63,667.20 L774.19,668.80 L774.19,677.60 L775.63,679.20 L781.40,679.20 M791.80,667.20 L785.85,667.20 L784.59,668.60 L784.59,671.60 L785.67,672.60 L790.72,673.80 L791.80,675.00 L791.80,677.80 L790.54,679.20 L784.23,679.20 M802.21,667.20 L795.00,667.20 L795.00,679.20 L802.21,679.20 M795.00,673.20 L800.40,673.20 M805.40,667.20 L805.40,679.20 L812.61,679.20 M825.20,679.20 L825.20,667.20 L830.97,667.20 L832.41,668.80 L832.41,671.60 L830.97,673.20 L825.20,673.20 M842.82,667.20 L837.05,667.20 L835.61,668.80 L835.61,677.60 L837.05,679.20 L842.82,679.20 M846.01,679.20 L846.01,667.20 L851.78,667.20 L853.22,668.80 L853.22,671.60 L851.78,673.20 L846.01,673.20 M851.78,673.20 L853.22,674.80 L853.22,677.60 L851.78,679.20 L846.01,679.20 M867.43,667.20 L867.43,679.20 M865.81,670.20 L870.14,670.20 M874.42,679.20 L878.56,679.20 L879.64,678.00 L879.64,671.40 L878.56,670.20 L874.42,670.20 L873.33,671.40 L873.33,678.00 L874.42,679.20 M899.44,667.20 L893.50,667.20 L892.23,668.60 L892.23,671.60 L893.32,672.60 L898.36,673.80 L899.44,675.00 L899.44,677.80 L898.18,679.20 L891.87,679.20 M902.64,670.20 L902.64,678.00 L903.72,679.20 L908.95,679.20 M908.95,670.20 L908.95,679.20 M912.14,679.20 L912.14,670.20 M912.14,671.80 L913.58,670.20 L917.91,670.20 M922.73,679.20 L922.73,668.40 L923.81,667.20 L925.79,667.20 M921.11,670.20 L925.07,670.20 M930.07,679.20 L934.21,679.20 L935.29,678.00 L935.29,671.40 L934.21,670.20 L930.07,670.20 L928.99,671.40 L928.99,678.00 L930.07,679.20 M935.29,670.20 L935.29,679.20 M944.80,670.20 L939.57,670.20 L938.49,671.40 L938.49,678.00 L939.57,679.20 L944.80,679.20 M947.99,674.70 L954.30,674.70 L954.30,671.40 L953.22,670.20 L949.07,670.20 L947.99,671.40 L947.99,678.00 L949.07,679.20 L954.30,679.20" stroke-width="1.15" stroke-linejoin="miter"/>
<path d="M710.20,900.10 L710.20,888.40 L707.82,890.54 M715.60,894.25 L714.24,892.69 L714.24,889.96 L715.60,888.40 L719.68,888.40 L721.04,889.96 L721.04,892.69 L719.68,894.25 L715.60,894.25 L714.24,895.81 L714.24,898.54 L715.60,900.10 L719.68,900.10 L721.04,898.54 L721.04,895.81 L719.68,894.25 M724.91,900.10 L724.91,898.35 M735.58,888.40 L729.29,888.40 L729.29,893.47 L734.22,893.47 L735.58,895.03 L735.58,898.54 L734.22,900.10 L728.78,900.10 M745.40,888.40 L739.11,888.40 L739.11,893.47 L744.04,893.47 L745.40,895.03 L745.40,898.54 L744.04,900.10 L738.60,900.10" stroke-width="1.15" stroke-linejoin="miter"/>
<path d="M706.54,922.00 L710.03,922.00 L711.77,920.13 L711.77,912.67 L710.03,910.80 L706.54,910.80 L704.80,912.67 L704.80,920.13 L706.54,922.00 M715.74,922.00 L715.74,920.32 M719.70,910.80 L726.67,910.80 L721.79,922.00 M729.76,910.80 L735.34,910.80 L736.74,912.29 L736.74,914.91 L735.34,916.40 L732.20,916.40 M735.34,916.40 L736.74,917.89 L736.74,920.51 L735.34,922.00 L729.76,922.00 M741.57,922.00 L745.06,922.00 L746.80,920.13 L746.80,912.67 L745.06,910.80 L741.57,910.80 L739.83,912.67 L739.83,920.13 L741.57,922.00" stroke-width="1.15" stroke-linejoin="miter"/>
<path d="M775.60,901.00 L782.62,901.00 M779.11,901.00 L779.11,914.10 M786.79,914.10 L790.83,914.10 L791.88,912.79 L791.88,905.59 L790.83,904.27 L786.79,904.27 L785.74,905.59 L785.74,912.79 L786.79,914.10 M795.00,918.47 L795.00,904.27 L800.09,904.27 L801.14,905.59 L801.14,912.79 L800.09,914.10 L795.00,914.10 M814.46,914.10 L818.50,914.10 L819.55,912.79 L819.55,905.59 L818.50,904.27 L814.46,904.27 L813.41,905.59 L813.41,912.79 L814.46,914.10 M824.25,914.10 L824.25,902.31 L825.30,901.00 L827.23,901.00 M822.67,904.27 L826.53,904.27 M846.52,901.00 L840.91,901.00 L839.50,902.75 L839.50,912.35 L840.91,914.10 L846.52,914.10 M850.52,914.10 L850.52,901.00 M855.39,914.10 L855.39,904.27 M855.39,902.53 L855.39,901.00 M859.38,918.47 L859.38,904.27 L864.47,904.27 L865.52,905.59 L865.52,912.79 L864.47,914.10 L859.38,914.10 M879.37,901.00 L879.37,914.10 M877.79,904.27 L882.00,904.27 M886.17,914.10 L890.21,914.10 L891.26,912.79 L891.26,905.59 L890.21,904.27 L886.17,904.27 L885.12,905.59 L885.12,912.79 L886.17,914.10 M910.55,901.00 L904.76,901.00 L903.53,902.53 L903.53,905.80 L904.59,906.89 L909.50,908.21 L910.55,909.51 L910.55,912.57 L909.33,914.10 L903.18,914.10 M913.67,904.27 L913.67,912.79 L914.72,914.10 L919.81,914.10 M919.81,904.27 L919.81,914.10 M922.93,914.10 L922.93,904.27 M922.93,906.02 L924.33,904.27 L928.55,904.27 M933.24,914.10 L933.24,902.31 L934.29,901.00 L936.22,901.00 M931.66,904.27 L935.52,904.27 M940.39,914.10 L944.43,914.10 L945.48,912.79 L945.48,905.59 L944.43,904.27 L940.39,904.27 L939.34,905.59 L939.34,912.79 L940.39,914.10 M945.48,904.27 L945.48,914.10 M954.74,904.27 L949.65,904.27 L948.60,905.59 L948.60,912.79 L949.65,914.10 L954.74,914.10 M957.86,909.19 L964.00,909.19 L964.00,905.59 L962.95,904.27 L958.91,904.27 L957.86,905.59 L957.86,912.79 L958.91,914.10 L964.00,914.10" stroke-width="1.15" stroke-linejoin="miter"/>
<path d="M179.05,663.20 L172.90,663.20 L171.60,664.53 L171.60,667.38 L172.72,668.33 L177.93,669.47 L179.05,670.61 L179.05,673.27 L177.75,674.60 L171.23,674.60 M182.35,670.33 L188.87,670.33 L188.87,667.19 L187.75,666.05 L183.47,666.05 L182.35,667.19 L182.35,673.46 L183.47,674.60 L188.87,674.60 M192.17,674.60 L192.17,666.05 M192.17,667.19 L193.29,666.05 L197.58,666.05 L198.69,667.19 L198.69,674.60 M208.51,666.05 L202.93,666.05 L202.00,667.00 L202.00,669.38 L202.93,670.13 L207.58,670.89 L208.51,671.85 L208.51,673.65 L207.58,674.60 L202.00,674.60 M212.94,674.60 L217.22,674.60 L218.34,673.46 L218.34,667.19 L217.22,666.05 L212.94,666.05 L211.82,667.19 L211.82,673.46 L212.94,674.60 M221.64,674.60 L221.64,666.05 M221.64,667.57 L223.13,666.05 L227.60,666.05" stroke-width="1.15" stroke-linejoin="miter"/>
<path d="M108.23,690.70 L102.18,690.70 L100.90,691.97 L100.90,694.70 L102.00,695.61 L107.13,696.70 L108.23,697.79 L108.23,700.33 L106.95,701.60 L100.53,701.60 M111.48,697.51 L117.89,697.51 L117.89,694.51 L116.79,693.43 L112.58,693.43 L111.48,694.51 L111.48,700.51 L112.58,701.60 L117.89,701.60 M121.15,701.60 L121.15,693.43 M121.15,694.51 L122.24,693.43 L126.46,693.43 L127.56,694.51 L127.56,701.60 M137.22,693.43 L131.73,693.43 L130.81,694.33 L130.81,696.60 L131.73,697.33 L136.31,698.06 L137.22,698.97 L137.22,700.69 L136.31,701.60 L130.81,701.60 M141.57,701.60 L145.79,701.60 L146.89,700.51 L146.89,694.51 L145.79,693.43 L141.57,693.43 L140.47,694.51 L140.47,700.51 L141.57,701.60 M150.14,701.60 L150.14,693.43 M150.14,694.88 L151.60,693.43 L156.00,693.43 M168.81,701.60 L168.81,690.70 L174.67,690.70 L176.14,692.15 L176.14,694.70 L174.67,696.15 L168.81,696.15 M186.72,690.70 L180.86,690.70 L179.39,692.15 L179.39,700.15 L180.86,701.60 L186.72,701.60 M189.97,701.60 L189.97,690.70 L195.83,690.70 L197.30,692.15 L197.30,694.70 L195.83,696.15 L189.97,696.15 M195.83,696.15 L197.30,697.60 L197.30,700.15 L195.83,701.60 L189.97,701.60" stroke-width="1.15" stroke-linejoin="miter"/>
<path d="M254.00,655.10 L257.65,666.80 L261.29,655.10 M271.82,655.10 L265.99,655.10 L264.53,656.66 L264.53,665.24 L265.99,666.80 L271.82,666.80 M282.35,655.10 L276.33,655.10 L275.06,656.47 L275.06,659.39 L276.15,660.37 L281.26,661.53 L282.35,662.70 L282.35,665.43 L281.07,666.80 L274.69,666.80 M292.88,655.10 L285.58,655.10 L285.58,666.80 L292.88,666.80 M285.58,660.95 L291.05,660.95 M296.11,655.10 L296.11,666.80 L303.41,666.80 M316.15,666.80 L316.15,655.10 L321.98,655.10 L323.44,656.66 L323.44,659.39 L321.98,660.95 L316.15,660.95 M333.97,655.10 L328.14,655.10 L326.68,656.66 L326.68,665.24 L328.14,666.80 L333.97,666.80 M337.21,666.80 L337.21,655.10 L343.04,655.10 L344.50,656.66 L344.50,659.39 L343.04,660.95 L337.21,660.95 M343.04,660.95 L344.50,662.51 L344.50,665.24 L343.04,666.80 L337.21,666.80" stroke-width="1.15" stroke-linejoin="miter"/>
<path d="M437.60,677.40 L441.21,689.00 L444.82,677.40 M455.25,677.40 L449.47,677.40 L448.02,678.95 L448.02,687.45 L449.47,689.00 L455.25,689.00 M465.67,677.40 L459.71,677.40 L458.45,678.75 L458.45,681.65 L459.53,682.62 L464.59,683.78 L465.67,684.94 L465.67,687.65 L464.41,689.00 L458.09,689.00 M476.10,677.40 L468.87,677.40 L468.87,689.00 L476.10,689.00 M468.87,683.20 L474.29,683.20 M479.30,677.40 L479.30,689.00 L486.52,689.00 M506.36,677.40 L500.58,677.40 L499.14,678.95 L499.14,687.45 L500.58,689.00 L506.36,689.00 M510.47,689.00 L510.47,677.40 M515.48,689.00 L515.48,680.30 M515.48,678.75 L515.48,677.40 M519.58,692.87 L519.58,680.30 L524.82,680.30 L525.90,681.46 L525.90,687.84 L524.82,689.00 L519.58,689.00" stroke-width="1.15" stroke-linejoin="miter"/>
<path d="M248.60,807.50 L248.60,818.90 L256.59,818.90 M260.14,814.62 L267.13,814.62 L267.13,811.49 L265.93,810.35 L261.33,810.35 L260.14,811.49 L260.14,817.76 L261.33,818.90 L267.13,818.90 M270.67,818.90 L270.67,810.35 M270.67,811.49 L271.87,810.35 L276.46,810.35 L277.66,811.49 L277.66,818.90 M288.20,810.35 L282.21,810.35 L281.21,811.30 L281.21,813.67 L282.21,814.43 L287.20,815.19 L288.20,816.14 L288.20,817.95 L287.20,818.90 L281.21,818.90" stroke-width="1.15" stroke-linejoin="miter"/>
<path d="M232.34,837.30 L226.28,837.30 L225.00,838.86 L225.00,842.21 L226.10,843.33 L231.24,844.67 L232.34,846.01 L232.34,849.14 L231.05,850.70 L224.63,850.70 M235.59,840.65 L235.59,849.36 L236.70,850.70 L242.02,850.70 M242.02,840.65 L242.02,850.70 M245.27,850.70 L245.27,840.65 M245.27,842.44 L246.74,840.65 L251.14,840.65 M256.05,850.70 L256.05,838.64 L257.15,837.30 L259.17,837.30 M254.40,840.65 L258.43,840.65 M263.52,850.70 L267.74,850.70 L268.85,849.36 L268.85,841.99 L267.74,840.65 L263.52,840.65 L262.42,841.99 L262.42,849.36 L263.52,850.70 M268.85,840.65 L268.85,850.70 M278.52,840.65 L273.20,840.65 L272.10,841.99 L272.10,849.36 L273.20,850.70 L278.52,850.70 M281.78,845.67 L288.20,845.67 L288.20,841.99 L287.10,840.65 L282.88,840.65 L281.78,841.99 L281.78,849.36 L282.88,850.70 L288.20,850.70" stroke-width="1.15" stroke-linejoin="miter"/>
</svg>
</body></html>
